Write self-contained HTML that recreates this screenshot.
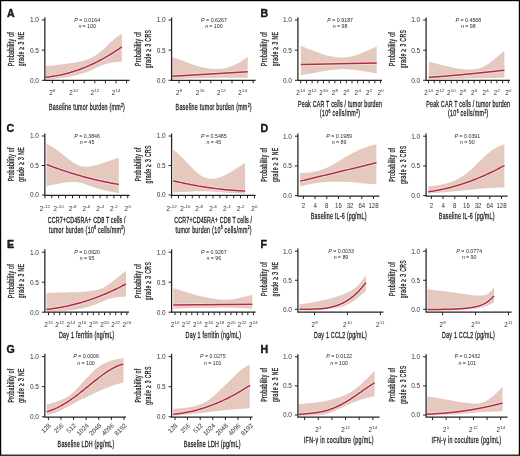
<!DOCTYPE html>
<html><head><meta charset="utf-8"><title>Figure</title>
<style>
html,body{margin:0;padding:0;background:#fff;}
svg{display:block;will-change:transform;}
text{white-space:pre;font-family:"Liberation Sans",sans-serif;fill:#222;stroke:#222;stroke-width:0.3px;}
text.pv{stroke-width:0;fill:#2a2a2a;}
text.tk{stroke-width:0;fill:#333;}
text.let{stroke:#000;stroke-width:0.35px;}
</style></head><body>
<svg width="520" height="456" viewBox="0 0 520 456">
<rect x="0" y="0" width="520" height="456" fill="#fff"/>
<path d="M45.6,65.99 L46.6,65.92 L47.6,65.85 L48.6,65.78 L49.6,65.71 L50.6,65.63 L51.6,65.54 L52.6,65.45 L53.6,65.36 L54.6,65.26 L55.6,65.16 L56.6,65.06 L57.6,64.94 L58.6,64.83 L59.6,64.7 L60.6,64.58 L61.6,64.45 L62.6,64.31 L63.6,64.18 L64.6,64.04 L65.6,63.9 L66.6,63.76 L67.6,63.62 L68.6,63.48 L69.6,63.33 L70.6,63.19 L71.6,63.04 L72.6,62.89 L73.6,62.74 L74.6,62.57 L75.6,62.4 L76.6,62.23 L77.6,62.04 L78.6,61.84 L79.6,61.63 L80.6,61.4 L81.6,61.16 L82.6,60.91 L83.6,60.64 L84.6,60.35 L85.6,60.05 L86.6,59.71 L87.6,59.36 L88.6,58.97 L89.6,58.55 L90.6,58.1 L91.6,57.61 L92.6,57.07 L93.6,56.5 L94.6,55.9 L95.6,55.26 L96.6,54.59 L97.6,53.9 L98.6,53.17 L99.6,52.42 L100.6,51.64 L101.6,50.83 L102.6,49.98 L103.6,49.1 L104.6,48.19 L105.6,47.25 L106.6,46.29 L107.6,45.31 L108.6,44.31 L109.6,43.32 L110.6,42.33 L111.6,41.35 L112.6,40.41 L113.6,39.5 L114.6,38.63 L115.6,37.81 L116.6,37.05 L117.6,36.35 L118.6,35.71 L119.6,35.13 L120.6,34.59 L121.6,34.11 L121.9,33.99 L121.9,61.63 L121.6,61.64 L120.6,61.71 L119.6,61.79 L118.6,61.87 L117.6,61.96 L116.6,62.06 L115.6,62.17 L114.6,62.3 L113.6,62.43 L112.6,62.58 L111.6,62.75 L110.6,62.93 L109.6,63.12 L108.6,63.34 L107.6,63.57 L106.6,63.83 L105.6,64.1 L104.6,64.4 L103.6,64.72 L102.6,65.06 L101.6,65.42 L100.6,65.8 L99.6,66.21 L98.6,66.64 L97.6,67.08 L96.6,67.54 L95.6,68.01 L94.6,68.5 L93.6,68.98 L92.6,69.46 L91.6,69.94 L90.6,70.39 L89.6,70.83 L88.6,71.25 L87.6,71.64 L86.6,72.02 L85.6,72.38 L84.6,72.73 L83.6,73.06 L82.6,73.38 L81.6,73.69 L80.6,73.99 L79.6,74.28 L78.6,74.57 L77.6,74.84 L76.6,75.11 L75.6,75.37 L74.6,75.63 L73.6,75.88 L72.6,76.11 L71.6,76.34 L70.6,76.56 L69.6,76.76 L68.6,76.95 L67.6,77.13 L66.6,77.3 L65.6,77.46 L64.6,77.61 L63.6,77.75 L62.6,77.89 L61.6,78.01 L60.6,78.13 L59.6,78.25 L58.6,78.36 L57.6,78.47 L56.6,78.58 L55.6,78.68 L54.6,78.78 L53.6,78.88 L52.6,78.98 L51.6,79.07 L50.6,79.17 L49.6,79.26 L48.6,79.34 L47.6,79.43 L46.6,79.51 L45.6,79.59 Z" fill="#e5c9be"/>
<path d="M45.6,77.19 L46.6,77.09 L47.6,76.99 L48.6,76.88 L49.6,76.76 L50.6,76.63 L51.6,76.49 L52.6,76.35 L53.6,76.2 L54.6,76.04 L55.6,75.87 L56.6,75.69 L57.6,75.51 L58.6,75.32 L59.6,75.12 L60.6,74.91 L61.6,74.69 L62.6,74.47 L63.6,74.24 L64.6,74 L65.6,73.75 L66.6,73.49 L67.6,73.23 L68.6,72.96 L69.6,72.68 L70.6,72.39 L71.6,72.09 L72.6,71.79 L73.6,71.47 L74.6,71.15 L75.6,70.82 L76.6,70.49 L77.6,70.14 L78.6,69.79 L79.6,69.43 L80.6,69.06 L81.6,68.68 L82.6,68.3 L83.6,67.9 L84.6,67.5 L85.6,67.09 L86.6,66.68 L87.6,66.25 L88.6,65.82 L89.6,65.38 L90.6,64.93 L91.6,64.47 L92.6,64.01 L93.6,63.53 L94.6,63.05 L95.6,62.56 L96.6,62.06 L97.6,61.56 L98.6,61.04 L99.6,60.52 L100.6,59.99 L101.6,59.45 L102.6,58.91 L103.6,58.35 L104.6,57.79 L105.6,57.22 L106.6,56.65 L107.6,56.06 L108.6,55.46 L109.6,54.86 L110.6,54.25 L111.6,53.63 L112.6,53.01 L113.6,52.37 L114.6,51.73 L115.6,51.08 L116.6,50.42 L117.6,49.76 L118.6,49.08 L119.6,48.4 L120.6,47.71 L121.6,47.01 L121.9,46.8" fill="none" stroke="#efe1d8" stroke-width="3.1" stroke-linecap="butt" stroke-linejoin="round"/>
<path d="M45.6,77.19 L46.6,77.09 L47.6,76.99 L48.6,76.88 L49.6,76.76 L50.6,76.63 L51.6,76.49 L52.6,76.35 L53.6,76.2 L54.6,76.04 L55.6,75.87 L56.6,75.69 L57.6,75.51 L58.6,75.32 L59.6,75.12 L60.6,74.91 L61.6,74.69 L62.6,74.47 L63.6,74.24 L64.6,74 L65.6,73.75 L66.6,73.49 L67.6,73.23 L68.6,72.96 L69.6,72.68 L70.6,72.39 L71.6,72.09 L72.6,71.79 L73.6,71.47 L74.6,71.15 L75.6,70.82 L76.6,70.49 L77.6,70.14 L78.6,69.79 L79.6,69.43 L80.6,69.06 L81.6,68.68 L82.6,68.3 L83.6,67.9 L84.6,67.5 L85.6,67.09 L86.6,66.68 L87.6,66.25 L88.6,65.82 L89.6,65.38 L90.6,64.93 L91.6,64.47 L92.6,64.01 L93.6,63.53 L94.6,63.05 L95.6,62.56 L96.6,62.06 L97.6,61.56 L98.6,61.04 L99.6,60.52 L100.6,59.99 L101.6,59.45 L102.6,58.91 L103.6,58.35 L104.6,57.79 L105.6,57.22 L106.6,56.65 L107.6,56.06 L108.6,55.46 L109.6,54.86 L110.6,54.25 L111.6,53.63 L112.6,53.01 L113.6,52.37 L114.6,51.73 L115.6,51.08 L116.6,50.42 L117.6,49.76 L118.6,49.08 L119.6,48.4 L120.6,47.71 L121.6,47.01 L121.9,46.8" fill="none" stroke="#b6284a" stroke-width="1.5" stroke-linecap="butt" stroke-linejoin="round"/>
<path d="M44.85,17.5 V80.3 H129.6" fill="none" stroke="#222" stroke-width="1.25"/>
<path d="M41.85,20 H44.85" stroke="#222" stroke-width="1"/>
<path d="M41.85,50.15 H44.85" stroke="#222" stroke-width="1"/>
<path d="M41.85,80.3 H44.85" stroke="#222" stroke-width="1"/>
<text x="38.95" y="22.35" font-size="6.5" class="tk" text-anchor="end">1.0</text>
<text x="38.95" y="52.5" font-size="6.5" class="tk" text-anchor="end">0.5</text>
<text x="38.95" y="82.65" font-size="6.5" class="tk" text-anchor="end">0.0</text>
<path d="M52.4,80.3 v3 M63,80.3 v3 M73.6,80.3 v3 M84.2,80.3 v3 M94.8,80.3 v3 M105.4,80.3 v3 M116,80.3 v3 M126.6,80.3 v3" stroke="#222" stroke-width="1"/>
<text x="49.28" y="94.7" font-size="6.3" class="tk">2</text>
<text x="53.08" y="91.7" font-size="4.4" class="tk">8</text>
<text x="69.25" y="94.7" font-size="6.3" class="tk">2</text>
<text x="73.06" y="91.7" font-size="4.4" class="tk">10</text>
<text x="90.45" y="94.7" font-size="6.3" class="tk">2</text>
<text x="94.26" y="91.7" font-size="4.4" class="tk">12</text>
<text x="111.65" y="94.7" font-size="6.3" class="tk">2</text>
<text x="115.46" y="91.7" font-size="4.4" class="tk">14</text>
<text x="74.31" y="21.8" font-size="5.3" class="pv" font-style="italic">P</text>
<text x="79.31" y="21.8" font-size="5.3" class="pv">=</text>
<text x="83.88" y="21.8" font-size="5.3" class="pv">0.0164</text>
<text x="78.38" y="28" font-size="5.3" class="pv" font-style="italic">n</text>
<text x="82.51" y="28" font-size="5.3" class="pv">=</text>
<text x="87.08" y="28" font-size="5.3" class="pv">100</text>
<text transform="translate(14.15 48.95) rotate(-90) scale(0.6 1)" x="-28.33" y="0" font-size="8.5" letter-spacing="0.54">Probability of</text>
<text transform="translate(24.45 48.95) rotate(-90) scale(0.6 1)" x="-28.92" y="0" font-size="8.5" letter-spacing="0.65">grade ≥ 3 NE</text>
<text transform="translate(49 110.4) scale(0.6 1)" x="0" y="0" font-size="8.9" letter-spacing="0.41">Baseline tumor burden (mm</text>
<text transform="translate(121.04 106.8) scale(0.6 1)" x="0" y="0" font-size="5.52" letter-spacing="0.29">2</text>
<text transform="translate(123.06 110.4) scale(0.6 1)" x="0" y="0" font-size="8.9" letter-spacing="0.28">)</text>
<path d="M172.4,57.44 L173.4,57.7 L174.4,57.96 L175.4,58.24 L176.4,58.53 L177.4,58.84 L178.4,59.16 L179.4,59.49 L180.4,59.84 L181.4,60.21 L182.4,60.59 L183.4,60.98 L184.4,61.37 L185.4,61.77 L186.4,62.17 L187.4,62.57 L188.4,62.96 L189.4,63.35 L190.4,63.73 L191.4,64.09 L192.4,64.45 L193.4,64.79 L194.4,65.12 L195.4,65.44 L196.4,65.74 L197.4,66.02 L198.4,66.3 L199.4,66.56 L200.4,66.81 L201.4,67.05 L202.4,67.28 L203.4,67.5 L204.4,67.72 L205.4,67.92 L206.4,68.11 L207.4,68.28 L208.4,68.43 L209.4,68.56 L210.4,68.68 L211.4,68.77 L212.4,68.85 L213.4,68.91 L214.4,68.96 L215.4,68.99 L216.4,69 L217.4,68.99 L218.4,68.97 L219.4,68.92 L220.4,68.86 L221.4,68.76 L222.4,68.64 L223.4,68.49 L224.4,68.32 L225.4,68.11 L226.4,67.88 L227.4,67.61 L228.4,67.3 L229.4,66.97 L230.4,66.61 L231.4,66.22 L232.4,65.81 L233.4,65.38 L234.4,64.93 L235.4,64.46 L236.4,63.98 L237.4,63.48 L238.4,62.95 L239.4,62.4 L240.4,61.83 L241.4,61.23 L242.4,60.6 L243.4,59.94 L244.4,59.26 L245.4,58.55 L246.4,57.82 L247.4,57.07 L247.7,56.87 L247.7,77.7 L247.4,77.7 L246.4,77.7 L245.4,77.7 L244.4,77.7 L243.4,77.7 L242.4,77.7 L241.4,77.7 L240.4,77.7 L239.4,77.7 L238.4,77.7 L237.4,77.7 L236.4,77.7 L235.4,77.7 L234.4,77.7 L233.4,77.7 L232.4,77.71 L231.4,77.71 L230.4,77.72 L229.4,77.72 L228.4,77.73 L227.4,77.74 L226.4,77.75 L225.4,77.76 L224.4,77.77 L223.4,77.79 L222.4,77.8 L221.4,77.82 L220.4,77.83 L219.4,77.85 L218.4,77.86 L217.4,77.88 L216.4,77.9 L215.4,77.92 L214.4,77.93 L213.4,77.95 L212.4,77.97 L211.4,77.98 L210.4,78 L209.4,78.02 L208.4,78.04 L207.4,78.05 L206.4,78.07 L205.4,78.09 L204.4,78.11 L203.4,78.12 L202.4,78.14 L201.4,78.16 L200.4,78.18 L199.4,78.2 L198.4,78.22 L197.4,78.25 L196.4,78.27 L195.4,78.29 L194.4,78.31 L193.4,78.34 L192.4,78.37 L191.4,78.39 L190.4,78.42 L189.4,78.45 L188.4,78.48 L187.4,78.51 L186.4,78.54 L185.4,78.58 L184.4,78.62 L183.4,78.66 L182.4,78.7 L181.4,78.74 L180.4,78.79 L179.4,78.83 L178.4,78.88 L177.4,78.93 L176.4,78.99 L175.4,79.04 L174.4,79.09 L173.4,79.15 L172.4,79.2 Z" fill="#e5c9be"/>
<path d="M172.4,76.2 L247.7,71.8" fill="none" stroke="#efe1d8" stroke-width="3.1" stroke-linecap="butt" stroke-linejoin="round"/>
<path d="M172.4,76.2 L247.7,71.8" fill="none" stroke="#b6284a" stroke-width="1.5" stroke-linecap="butt" stroke-linejoin="round"/>
<path d="M171.6,17.5 V80.3 H255.6" fill="none" stroke="#222" stroke-width="1.25"/>
<path d="M168.6,20 H171.6" stroke="#222" stroke-width="1"/>
<path d="M168.6,50.15 H171.6" stroke="#222" stroke-width="1"/>
<path d="M168.6,80.3 H171.6" stroke="#222" stroke-width="1"/>
<text x="165.7" y="22.35" font-size="6.5" class="tk" text-anchor="end">1.0</text>
<text x="165.7" y="52.5" font-size="6.5" class="tk" text-anchor="end">0.5</text>
<text x="165.7" y="82.65" font-size="6.5" class="tk" text-anchor="end">0.0</text>
<path d="M179,80.3 v3 M189.6,80.3 v3 M200.2,80.3 v3 M210.8,80.3 v3 M221.4,80.3 v3 M232,80.3 v3 M242.6,80.3 v3 M253.2,80.3 v3" stroke="#222" stroke-width="1"/>
<text x="175.88" y="94.7" font-size="6.3" class="tk">2</text>
<text x="179.68" y="91.7" font-size="4.4" class="tk">8</text>
<text x="195.85" y="94.7" font-size="6.3" class="tk">2</text>
<text x="199.66" y="91.7" font-size="4.4" class="tk">10</text>
<text x="217.05" y="94.7" font-size="6.3" class="tk">2</text>
<text x="220.86" y="91.7" font-size="4.4" class="tk">12</text>
<text x="238.25" y="94.7" font-size="6.3" class="tk">2</text>
<text x="242.06" y="91.7" font-size="4.4" class="tk">14</text>
<text x="201.06" y="21.8" font-size="5.3" class="pv" font-style="italic">P</text>
<text x="206.06" y="21.8" font-size="5.3" class="pv">=</text>
<text x="210.63" y="21.8" font-size="5.3" class="pv">0.6267</text>
<text x="205.13" y="28" font-size="5.3" class="pv" font-style="italic">n</text>
<text x="209.26" y="28" font-size="5.3" class="pv">=</text>
<text x="213.83" y="28" font-size="5.3" class="pv">100</text>
<text transform="translate(140.9 48.95) rotate(-90) scale(0.6 1)" x="-28.33" y="0" font-size="8.5" letter-spacing="0.54">Probability of</text>
<text transform="translate(151.2 48.95) rotate(-90) scale(0.6 1)" x="-32" y="0" font-size="8.5" letter-spacing="0.6">grade ≥ 3 CRS</text>
<text transform="translate(175.6 110.4) scale(0.6 1)" x="0" y="0" font-size="8.9" letter-spacing="0.41">Baseline tumor burden (mm</text>
<text transform="translate(247.64 106.8) scale(0.6 1)" x="0" y="0" font-size="5.52" letter-spacing="0.29">2</text>
<text transform="translate(249.66 110.4) scale(0.6 1)" x="0" y="0" font-size="8.9" letter-spacing="0.28">)</text>
<path d="M300.8,45.79 L301.8,46.21 L302.8,46.63 L303.8,47.05 L304.8,47.46 L305.8,47.87 L306.8,48.28 L307.8,48.68 L308.8,49.07 L309.8,49.46 L310.8,49.84 L311.8,50.22 L312.8,50.6 L313.8,50.98 L314.8,51.35 L315.8,51.72 L316.8,52.09 L317.8,52.46 L318.8,52.82 L319.8,53.19 L320.8,53.54 L321.8,53.89 L322.8,54.23 L323.8,54.55 L324.8,54.86 L325.8,55.15 L326.8,55.42 L327.8,55.67 L328.8,55.9 L329.8,56.12 L330.8,56.32 L331.8,56.51 L332.8,56.68 L333.8,56.84 L334.8,56.99 L335.8,57.13 L336.8,57.25 L337.8,57.35 L338.8,57.44 L339.8,57.5 L340.8,57.54 L341.8,57.55 L342.8,57.53 L343.8,57.49 L344.8,57.42 L345.8,57.32 L346.8,57.21 L347.8,57.07 L348.8,56.91 L349.8,56.73 L350.8,56.53 L351.8,56.32 L352.8,56.08 L353.8,55.82 L354.8,55.54 L355.8,55.23 L356.8,54.89 L357.8,54.53 L358.8,54.16 L359.8,53.76 L360.8,53.36 L361.8,52.94 L362.8,52.52 L363.8,52.1 L364.8,51.68 L365.8,51.27 L366.8,50.85 L367.8,50.43 L368.8,50.01 L369.8,49.59 L370.8,49.16 L371.8,48.73 L372.8,48.3 L373.8,47.87 L374.8,47.43 L375.8,46.99 L376.7,46.66 L376.7,73.48 L375.8,73.34 L374.8,73.16 L373.8,72.98 L372.8,72.8 L371.8,72.62 L370.8,72.44 L369.8,72.27 L368.8,72.1 L367.8,71.93 L366.8,71.77 L365.8,71.6 L364.8,71.43 L363.8,71.27 L362.8,71.11 L361.8,70.95 L360.8,70.79 L359.8,70.63 L358.8,70.48 L357.8,70.34 L356.8,70.2 L355.8,70.07 L354.8,69.95 L353.8,69.84 L352.8,69.74 L351.8,69.65 L350.8,69.57 L349.8,69.49 L348.8,69.42 L347.8,69.36 L346.8,69.3 L345.8,69.25 L344.8,69.22 L343.8,69.2 L342.8,69.19 L341.8,69.19 L340.8,69.21 L339.8,69.25 L338.8,69.3 L337.8,69.36 L336.8,69.44 L335.8,69.53 L334.8,69.63 L333.8,69.74 L332.8,69.85 L331.8,69.97 L330.8,70.1 L329.8,70.22 L328.8,70.36 L327.8,70.5 L326.8,70.65 L325.8,70.8 L324.8,70.96 L323.8,71.12 L322.8,71.29 L321.8,71.47 L320.8,71.65 L319.8,71.83 L318.8,72.01 L317.8,72.19 L316.8,72.37 L315.8,72.54 L314.8,72.72 L313.8,72.89 L312.8,73.07 L311.8,73.24 L310.8,73.41 L309.8,73.58 L308.8,73.75 L307.8,73.92 L306.8,74.08 L305.8,74.25 L304.8,74.42 L303.8,74.59 L302.8,74.76 L301.8,74.93 L300.8,75.1 Z" fill="#e5c9be"/>
<path d="M300.8,64.6 L376.7,63.1" fill="none" stroke="#efe1d8" stroke-width="3.1" stroke-linecap="butt" stroke-linejoin="round"/>
<path d="M300.8,64.6 L376.7,63.1" fill="none" stroke="#b6284a" stroke-width="1.5" stroke-linecap="butt" stroke-linejoin="round"/>
<path d="M297.9,17.5 V80.3 H382" fill="none" stroke="#222" stroke-width="1.25"/>
<path d="M294.9,20 H297.9" stroke="#222" stroke-width="1"/>
<path d="M294.9,50.15 H297.9" stroke="#222" stroke-width="1"/>
<path d="M294.9,80.3 H297.9" stroke="#222" stroke-width="1"/>
<text x="292" y="22.35" font-size="6.5" class="tk" text-anchor="end">1.0</text>
<text x="292" y="52.5" font-size="6.5" class="tk" text-anchor="end">0.5</text>
<text x="292" y="82.65" font-size="6.5" class="tk" text-anchor="end">0.0</text>
<path d="M300.7,80.3 v3 M306.4,80.3 v3 M312.1,80.3 v3 M317.8,80.3 v3 M323.5,80.3 v3 M329.2,80.3 v3 M334.9,80.3 v3 M340.6,80.3 v3 M346.3,80.3 v3 M352,80.3 v3 M357.7,80.3 v3 M363.4,80.3 v3 M369.1,80.3 v3 M374.8,80.3 v3 M380.5,80.3 v3" stroke="#222" stroke-width="1"/>
<text x="296.35" y="95" font-size="6.3" class="tk">2</text>
<text x="300.16" y="92" font-size="4.4" class="tk">14</text>
<text x="307.75" y="95" font-size="6.3" class="tk">2</text>
<text x="311.56" y="92" font-size="4.4" class="tk">12</text>
<text x="319.15" y="95" font-size="6.3" class="tk">2</text>
<text x="322.96" y="92" font-size="4.4" class="tk">10</text>
<text x="331.78" y="95" font-size="6.3" class="tk">2</text>
<text x="335.58" y="92" font-size="4.4" class="tk">8</text>
<text x="343.18" y="95" font-size="6.3" class="tk">2</text>
<text x="346.98" y="92" font-size="4.4" class="tk">6</text>
<text x="354.58" y="95" font-size="6.3" class="tk">2</text>
<text x="358.38" y="92" font-size="4.4" class="tk">4</text>
<text x="365.98" y="95" font-size="6.3" class="tk">2</text>
<text x="369.78" y="92" font-size="4.4" class="tk">2</text>
<text x="377.38" y="95" font-size="6.3" class="tk">2</text>
<text x="381.18" y="92" font-size="4.4" class="tk">0</text>
<text x="327.26" y="21.8" font-size="5.3" class="pv" font-style="italic">P</text>
<text x="332.26" y="21.8" font-size="5.3" class="pv">=</text>
<text x="336.83" y="21.8" font-size="5.3" class="pv">0.9187</text>
<text x="332.81" y="28" font-size="5.3" class="pv" font-style="italic">n</text>
<text x="336.93" y="28" font-size="5.3" class="pv">=</text>
<text x="341.5" y="28" font-size="5.3" class="pv">98</text>
<text transform="translate(267.2 48.95) rotate(-90) scale(0.6 1)" x="-28.33" y="0" font-size="8.5" letter-spacing="0.54">Probability of</text>
<text transform="translate(277.5 48.95) rotate(-90) scale(0.6 1)" x="-28.92" y="0" font-size="8.5" letter-spacing="0.65">grade ≥ 3 NE</text>
<text transform="translate(340.1 107.1) scale(0.6 1)" x="-70.17" y="0" font-size="8.9" letter-spacing="0.34">Peak CAR T cells / tumor burden</text>
<text transform="translate(319.7 116.3) scale(0.6 1)" x="0" y="0" font-size="8.9" letter-spacing="0.59">(10</text>
<text transform="translate(328.47 112.7) scale(0.6 1)" x="0" y="0" font-size="5.52" letter-spacing="0.42">6</text>
<text transform="translate(330.56 116.3) scale(0.6 1)" x="0" y="0" font-size="8.9" letter-spacing="0.57"> cells/mm</text>
<text transform="translate(356.19 112.7) scale(0.6 1)" x="0" y="0" font-size="5.52" letter-spacing="0.42">2</text>
<text transform="translate(358.28 116.3) scale(0.6 1)" x="0" y="0" font-size="8.9" letter-spacing="0.4">)</text>
<path d="M428.8,61.7 L429.8,61.96 L430.8,62.22 L431.8,62.47 L432.8,62.73 L433.8,62.98 L434.8,63.24 L435.8,63.49 L436.8,63.74 L437.8,63.98 L438.8,64.23 L439.8,64.47 L440.8,64.72 L441.8,64.96 L442.8,65.2 L443.8,65.45 L444.8,65.69 L445.8,65.93 L446.8,66.18 L447.8,66.42 L448.8,66.66 L449.8,66.89 L450.8,67.12 L451.8,67.34 L452.8,67.55 L453.8,67.75 L454.8,67.95 L455.8,68.13 L456.8,68.3 L457.8,68.46 L458.8,68.61 L459.8,68.75 L460.8,68.88 L461.8,69.01 L462.8,69.13 L463.8,69.24 L464.8,69.33 L465.8,69.42 L466.8,69.48 L467.8,69.53 L468.8,69.56 L469.8,69.57 L470.8,69.55 L471.8,69.51 L472.8,69.44 L473.8,69.35 L474.8,69.23 L475.8,69.08 L476.8,68.9 L477.8,68.68 L478.8,68.43 L479.8,68.13 L480.8,67.78 L481.8,67.4 L482.8,66.96 L483.8,66.49 L484.8,65.97 L485.8,65.4 L486.8,64.8 L487.8,64.16 L488.8,63.48 L489.8,62.76 L490.8,62.02 L491.8,61.25 L492.8,60.47 L493.8,59.67 L494.8,58.85 L495.8,58.03 L496.8,57.19 L497.8,56.34 L498.8,55.48 L499.8,54.61 L500.8,53.73 L501.8,52.83 L502.8,51.93 L503.8,51.02 L504.4,50.57 L504.4,77.6 L503.8,77.62 L502.8,77.65 L501.8,77.68 L500.8,77.71 L499.8,77.73 L498.8,77.76 L497.8,77.79 L496.8,77.82 L495.8,77.85 L494.8,77.88 L493.8,77.9 L492.8,77.93 L491.8,77.96 L490.8,77.99 L489.8,78.01 L488.8,78.04 L487.8,78.07 L486.8,78.09 L485.8,78.12 L484.8,78.15 L483.8,78.17 L482.8,78.2 L481.8,78.22 L480.8,78.25 L479.8,78.28 L478.8,78.3 L477.8,78.32 L476.8,78.35 L475.8,78.37 L474.8,78.4 L473.8,78.42 L472.8,78.44 L471.8,78.47 L470.8,78.49 L469.8,78.51 L468.8,78.54 L467.8,78.56 L466.8,78.58 L465.8,78.6 L464.8,78.63 L463.8,78.65 L462.8,78.67 L461.8,78.69 L460.8,78.71 L459.8,78.73 L458.8,78.75 L457.8,78.77 L456.8,78.79 L455.8,78.81 L454.8,78.83 L453.8,78.85 L452.8,78.87 L451.8,78.89 L450.8,78.91 L449.8,78.93 L448.8,78.95 L447.8,78.97 L446.8,78.99 L445.8,79.01 L444.8,79.03 L443.8,79.05 L442.8,79.06 L441.8,79.08 L440.8,79.1 L439.8,79.12 L438.8,79.14 L437.8,79.15 L436.8,79.17 L435.8,79.19 L434.8,79.2 L433.8,79.22 L432.8,79.24 L431.8,79.25 L430.8,79.27 L429.8,79.28 L428.8,79.3 Z" fill="#e5c9be"/>
<path d="M428.8,77.4 L429.8,77.33 L430.8,77.25 L431.8,77.17 L432.8,77.1 L433.8,77.02 L434.8,76.94 L435.8,76.87 L436.8,76.79 L437.8,76.71 L438.8,76.63 L439.8,76.55 L440.8,76.47 L441.8,76.39 L442.8,76.31 L443.8,76.22 L444.8,76.14 L445.8,76.06 L446.8,75.97 L447.8,75.89 L448.8,75.8 L449.8,75.72 L450.8,75.63 L451.8,75.54 L452.8,75.46 L453.8,75.37 L454.8,75.28 L455.8,75.19 L456.8,75.1 L457.8,75.01 L458.8,74.92 L459.8,74.83 L460.8,74.74 L461.8,74.65 L462.8,74.55 L463.8,74.46 L464.8,74.37 L465.8,74.27 L466.8,74.18 L467.8,74.08 L468.8,73.98 L469.8,73.89 L470.8,73.79 L471.8,73.69 L472.8,73.59 L473.8,73.5 L474.8,73.4 L475.8,73.3 L476.8,73.2 L477.8,73.09 L478.8,72.99 L479.8,72.89 L480.8,72.79 L481.8,72.68 L482.8,72.58 L483.8,72.48 L484.8,72.37 L485.8,72.26 L486.8,72.16 L487.8,72.05 L488.8,71.94 L489.8,71.84 L490.8,71.73 L491.8,71.62 L492.8,71.51 L493.8,71.4 L494.8,71.29 L495.8,71.18 L496.8,71.07 L497.8,70.95 L498.8,70.84 L499.8,70.73 L500.8,70.61 L501.8,70.5 L502.8,70.39 L503.8,70.27 L504.4,70.2" fill="none" stroke="#efe1d8" stroke-width="3.1" stroke-linecap="butt" stroke-linejoin="round"/>
<path d="M428.8,77.4 L429.8,77.33 L430.8,77.25 L431.8,77.17 L432.8,77.1 L433.8,77.02 L434.8,76.94 L435.8,76.87 L436.8,76.79 L437.8,76.71 L438.8,76.63 L439.8,76.55 L440.8,76.47 L441.8,76.39 L442.8,76.31 L443.8,76.22 L444.8,76.14 L445.8,76.06 L446.8,75.97 L447.8,75.89 L448.8,75.8 L449.8,75.72 L450.8,75.63 L451.8,75.54 L452.8,75.46 L453.8,75.37 L454.8,75.28 L455.8,75.19 L456.8,75.1 L457.8,75.01 L458.8,74.92 L459.8,74.83 L460.8,74.74 L461.8,74.65 L462.8,74.55 L463.8,74.46 L464.8,74.37 L465.8,74.27 L466.8,74.18 L467.8,74.08 L468.8,73.98 L469.8,73.89 L470.8,73.79 L471.8,73.69 L472.8,73.59 L473.8,73.5 L474.8,73.4 L475.8,73.3 L476.8,73.2 L477.8,73.09 L478.8,72.99 L479.8,72.89 L480.8,72.79 L481.8,72.68 L482.8,72.58 L483.8,72.48 L484.8,72.37 L485.8,72.26 L486.8,72.16 L487.8,72.05 L488.8,71.94 L489.8,71.84 L490.8,71.73 L491.8,71.62 L492.8,71.51 L493.8,71.4 L494.8,71.29 L495.8,71.18 L496.8,71.07 L497.8,70.95 L498.8,70.84 L499.8,70.73 L500.8,70.61 L501.8,70.5 L502.8,70.39 L503.8,70.27 L504.4,70.2" fill="none" stroke="#b6284a" stroke-width="1.5" stroke-linecap="butt" stroke-linejoin="round"/>
<path d="M426.1,17.5 V80.3 H510" fill="none" stroke="#222" stroke-width="1.25"/>
<path d="M423.1,20 H426.1" stroke="#222" stroke-width="1"/>
<path d="M423.1,50.15 H426.1" stroke="#222" stroke-width="1"/>
<path d="M423.1,80.3 H426.1" stroke="#222" stroke-width="1"/>
<text x="420.2" y="22.35" font-size="6.5" class="tk" text-anchor="end">1.0</text>
<text x="420.2" y="52.5" font-size="6.5" class="tk" text-anchor="end">0.5</text>
<text x="420.2" y="82.65" font-size="6.5" class="tk" text-anchor="end">0.0</text>
<path d="M428.5,80.3 v3 M434.2,80.3 v3 M439.9,80.3 v3 M445.6,80.3 v3 M451.3,80.3 v3 M457,80.3 v3 M462.7,80.3 v3 M468.4,80.3 v3 M474.1,80.3 v3 M479.8,80.3 v3 M485.5,80.3 v3 M491.2,80.3 v3 M496.9,80.3 v3 M502.6,80.3 v3 M508.3,80.3 v3" stroke="#222" stroke-width="1"/>
<text x="424.15" y="95" font-size="6.3" class="tk">2</text>
<text x="427.96" y="92" font-size="4.4" class="tk">14</text>
<text x="435.55" y="95" font-size="6.3" class="tk">2</text>
<text x="439.36" y="92" font-size="4.4" class="tk">12</text>
<text x="446.95" y="95" font-size="6.3" class="tk">2</text>
<text x="450.76" y="92" font-size="4.4" class="tk">10</text>
<text x="459.58" y="95" font-size="6.3" class="tk">2</text>
<text x="463.38" y="92" font-size="4.4" class="tk">8</text>
<text x="470.98" y="95" font-size="6.3" class="tk">2</text>
<text x="474.78" y="92" font-size="4.4" class="tk">6</text>
<text x="482.38" y="95" font-size="6.3" class="tk">2</text>
<text x="486.18" y="92" font-size="4.4" class="tk">4</text>
<text x="493.78" y="95" font-size="6.3" class="tk">2</text>
<text x="497.58" y="92" font-size="4.4" class="tk">2</text>
<text x="505.18" y="95" font-size="6.3" class="tk">2</text>
<text x="508.98" y="92" font-size="4.4" class="tk">0</text>
<text x="455.46" y="21.8" font-size="5.3" class="pv" font-style="italic">P</text>
<text x="460.46" y="21.8" font-size="5.3" class="pv">=</text>
<text x="465.03" y="21.8" font-size="5.3" class="pv">0.4568</text>
<text x="461.01" y="28" font-size="5.3" class="pv" font-style="italic">n</text>
<text x="465.13" y="28" font-size="5.3" class="pv">=</text>
<text x="469.7" y="28" font-size="5.3" class="pv">98</text>
<text transform="translate(395.4 48.95) rotate(-90) scale(0.6 1)" x="-28.33" y="0" font-size="8.5" letter-spacing="0.54">Probability of</text>
<text transform="translate(405.7 48.95) rotate(-90) scale(0.6 1)" x="-32" y="0" font-size="8.5" letter-spacing="0.6">grade ≥ 3 CRS</text>
<text transform="translate(468.3 107.1) scale(0.6 1)" x="-70.17" y="0" font-size="8.9" letter-spacing="0.34">Peak CAR T cells / tumor burden</text>
<text transform="translate(447.9 116.3) scale(0.6 1)" x="0" y="0" font-size="8.9" letter-spacing="0.59">(10</text>
<text transform="translate(456.67 112.7) scale(0.6 1)" x="0" y="0" font-size="5.52" letter-spacing="0.42">6</text>
<text transform="translate(458.76 116.3) scale(0.6 1)" x="0" y="0" font-size="8.9" letter-spacing="0.57"> cells/mm</text>
<text transform="translate(484.39 112.7) scale(0.6 1)" x="0" y="0" font-size="5.52" letter-spacing="0.42">2</text>
<text transform="translate(486.48 116.3) scale(0.6 1)" x="0" y="0" font-size="8.9" letter-spacing="0.4">)</text>
<path d="M46.5,143.78 L47.5,144.25 L48.5,144.74 L49.5,145.25 L50.5,145.79 L51.5,146.36 L52.5,146.96 L53.5,147.59 L54.5,148.26 L55.5,148.95 L56.5,149.66 L57.5,150.4 L58.5,151.16 L59.5,151.94 L60.5,152.72 L61.5,153.51 L62.5,154.31 L63.5,155.11 L64.5,155.91 L65.5,156.71 L66.5,157.5 L67.5,158.29 L68.5,159.06 L69.5,159.82 L70.5,160.56 L71.5,161.28 L72.5,161.97 L73.5,162.63 L74.5,163.24 L75.5,163.81 L76.5,164.34 L77.5,164.83 L78.5,165.26 L79.5,165.64 L80.5,165.97 L81.5,166.23 L82.5,166.43 L83.5,166.57 L84.5,166.66 L85.5,166.71 L86.5,166.71 L87.5,166.67 L88.5,166.61 L89.5,166.52 L90.5,166.39 L91.5,166.24 L92.5,166.04 L93.5,165.82 L94.5,165.56 L95.5,165.28 L96.5,164.98 L97.5,164.66 L98.5,164.34 L99.5,164.02 L100.5,163.7 L101.5,163.38 L102.5,163.06 L103.5,162.74 L104.5,162.43 L105.5,162.11 L106.5,161.79 L107.5,161.47 L108.5,161.14 L109.5,160.82 L110.5,160.49 L111.5,160.16 L112.5,159.83 L113.5,159.49 L114.5,159.16 L115.5,158.82 L116.5,158.48 L117.5,158.14 L118.5,157.8 L118.8,157.71 L118.8,193.07 L118.5,193.03 L117.5,192.88 L116.5,192.72 L115.5,192.55 L114.5,192.37 L113.5,192.2 L112.5,192.01 L111.5,191.82 L110.5,191.62 L109.5,191.41 L108.5,191.2 L107.5,190.98 L106.5,190.76 L105.5,190.53 L104.5,190.28 L103.5,190.04 L102.5,189.78 L101.5,189.52 L100.5,189.25 L99.5,188.97 L98.5,188.69 L97.5,188.4 L96.5,188.11 L95.5,187.81 L94.5,187.5 L93.5,187.18 L92.5,186.85 L91.5,186.51 L90.5,186.15 L89.5,185.78 L88.5,185.4 L87.5,185.02 L86.5,184.64 L85.5,184.27 L84.5,183.92 L83.5,183.59 L82.5,183.3 L81.5,183.04 L80.5,182.81 L79.5,182.62 L78.5,182.45 L77.5,182.31 L76.5,182.2 L75.5,182.1 L74.5,182.03 L73.5,181.98 L72.5,181.96 L71.5,181.95 L70.5,181.98 L69.5,182.03 L68.5,182.12 L67.5,182.22 L66.5,182.35 L65.5,182.5 L64.5,182.66 L63.5,182.83 L62.5,183.01 L61.5,183.19 L60.5,183.37 L59.5,183.56 L58.5,183.74 L57.5,183.93 L56.5,184.12 L55.5,184.31 L54.5,184.51 L53.5,184.7 L52.5,184.91 L51.5,185.12 L50.5,185.33 L49.5,185.54 L48.5,185.76 L47.5,185.99 L46.5,186.21 Z" fill="#e5c9be"/>
<path d="M46.5,164.48 L47.5,164.87 L48.5,165.25 L49.5,165.63 L50.5,166 L51.5,166.37 L52.5,166.74 L53.5,167.11 L54.5,167.47 L55.5,167.83 L56.5,168.19 L57.5,168.54 L58.5,168.89 L59.5,169.24 L60.5,169.59 L61.5,169.93 L62.5,170.27 L63.5,170.6 L64.5,170.93 L65.5,171.26 L66.5,171.59 L67.5,171.91 L68.5,172.23 L69.5,172.55 L70.5,172.87 L71.5,173.18 L72.5,173.49 L73.5,173.79 L74.5,174.09 L75.5,174.39 L76.5,174.69 L77.5,174.98 L78.5,175.27 L79.5,175.56 L80.5,175.84 L81.5,176.12 L82.5,176.4 L83.5,176.68 L84.5,176.95 L85.5,177.22 L86.5,177.48 L87.5,177.74 L88.5,178 L89.5,178.26 L90.5,178.51 L91.5,178.77 L92.5,179.01 L93.5,179.26 L94.5,179.5 L95.5,179.74 L96.5,179.97 L97.5,180.2 L98.5,180.43 L99.5,180.66 L100.5,180.88 L101.5,181.1 L102.5,181.32 L103.5,181.54 L104.5,181.75 L105.5,181.95 L106.5,182.16 L107.5,182.36 L108.5,182.56 L109.5,182.76 L110.5,182.95 L111.5,183.14 L112.5,183.33 L113.5,183.51 L114.5,183.69 L115.5,183.87 L116.5,184.04 L117.5,184.21 L118.5,184.38 L118.8,184.43" fill="none" stroke="#efe1d8" stroke-width="3.1" stroke-linecap="butt" stroke-linejoin="round"/>
<path d="M46.5,164.48 L47.5,164.87 L48.5,165.25 L49.5,165.63 L50.5,166 L51.5,166.37 L52.5,166.74 L53.5,167.11 L54.5,167.47 L55.5,167.83 L56.5,168.19 L57.5,168.54 L58.5,168.89 L59.5,169.24 L60.5,169.59 L61.5,169.93 L62.5,170.27 L63.5,170.6 L64.5,170.93 L65.5,171.26 L66.5,171.59 L67.5,171.91 L68.5,172.23 L69.5,172.55 L70.5,172.87 L71.5,173.18 L72.5,173.49 L73.5,173.79 L74.5,174.09 L75.5,174.39 L76.5,174.69 L77.5,174.98 L78.5,175.27 L79.5,175.56 L80.5,175.84 L81.5,176.12 L82.5,176.4 L83.5,176.68 L84.5,176.95 L85.5,177.22 L86.5,177.48 L87.5,177.74 L88.5,178 L89.5,178.26 L90.5,178.51 L91.5,178.77 L92.5,179.01 L93.5,179.26 L94.5,179.5 L95.5,179.74 L96.5,179.97 L97.5,180.2 L98.5,180.43 L99.5,180.66 L100.5,180.88 L101.5,181.1 L102.5,181.32 L103.5,181.54 L104.5,181.75 L105.5,181.95 L106.5,182.16 L107.5,182.36 L108.5,182.56 L109.5,182.76 L110.5,182.95 L111.5,183.14 L112.5,183.33 L113.5,183.51 L114.5,183.69 L115.5,183.87 L116.5,184.04 L117.5,184.21 L118.5,184.38 L118.8,184.43" fill="none" stroke="#b6284a" stroke-width="1.5" stroke-linecap="butt" stroke-linejoin="round"/>
<path d="M44.85,133.4 V195.3 H129.6" fill="none" stroke="#222" stroke-width="1.25"/>
<path d="M41.85,136 H44.85" stroke="#222" stroke-width="1"/>
<path d="M41.85,165.5 H44.85" stroke="#222" stroke-width="1"/>
<path d="M41.85,195 H44.85" stroke="#222" stroke-width="1"/>
<text x="38.95" y="138.35" font-size="6.5" class="tk" text-anchor="end">1.0</text>
<text x="38.95" y="167.85" font-size="6.5" class="tk" text-anchor="end">0.5</text>
<text x="38.95" y="197.35" font-size="6.5" class="tk" text-anchor="end">0.0</text>
<path d="M44.9,195.3 v3 M51.8,195.3 v3 M58.7,195.3 v3 M65.6,195.3 v3 M72.5,195.3 v3 M79.4,195.3 v3 M86.3,195.3 v3 M93.2,195.3 v3 M100.1,195.3 v3 M107,195.3 v3 M113.9,195.3 v3 M120.8,195.3 v3 M127.7,195.3 v3" stroke="#222" stroke-width="1"/>
<text x="39.82" y="210.8" font-size="6.3" class="tk">2</text>
<text x="43.62" y="207.8" font-size="4.4" class="tk">-12</text>
<text x="53.62" y="210.8" font-size="6.3" class="tk">2</text>
<text x="57.42" y="207.8" font-size="4.4" class="tk">-10</text>
<text x="68.64" y="210.8" font-size="6.3" class="tk">2</text>
<text x="72.45" y="207.8" font-size="4.4" class="tk">-8</text>
<text x="82.44" y="210.8" font-size="6.3" class="tk">2</text>
<text x="86.25" y="207.8" font-size="4.4" class="tk">-6</text>
<text x="96.24" y="210.8" font-size="6.3" class="tk">2</text>
<text x="100.05" y="207.8" font-size="4.4" class="tk">-4</text>
<text x="110.04" y="210.8" font-size="6.3" class="tk">2</text>
<text x="113.85" y="207.8" font-size="4.4" class="tk">-2</text>
<text x="124.58" y="210.8" font-size="6.3" class="tk">2</text>
<text x="128.38" y="207.8" font-size="4.4" class="tk">0</text>
<text x="74.21" y="137.8" font-size="5.3" class="pv" font-style="italic">P</text>
<text x="79.21" y="137.8" font-size="5.3" class="pv">=</text>
<text x="83.78" y="137.8" font-size="5.3" class="pv">0.3846</text>
<text x="79.76" y="144" font-size="5.3" class="pv" font-style="italic">n</text>
<text x="83.88" y="144" font-size="5.3" class="pv">=</text>
<text x="88.45" y="144" font-size="5.3" class="pv">45</text>
<text transform="translate(14.15 164.3) rotate(-90) scale(0.6 1)" x="-28.33" y="0" font-size="8.5" letter-spacing="0.54">Probability of</text>
<text transform="translate(24.45 164.3) rotate(-90) scale(0.6 1)" x="-28.92" y="0" font-size="8.5" letter-spacing="0.65">grade ≥ 3 NE</text>
<text transform="translate(86.75 222.5) scale(0.6 1)" x="-65.08" y="0" font-size="8.9" letter-spacing="0.28">CCR7+CD45RA+ CD8 T cells /</text>
<text transform="translate(48.9 232.5) scale(0.6 1)" x="0" y="0" font-size="8.9" letter-spacing="0.45">tumor burden (10</text>
<text transform="translate(94.22 228.9) scale(0.6 1)" x="0" y="0" font-size="5.52" letter-spacing="0.33">6</text>
<text transform="translate(96.25 232.5) scale(0.6 1)" x="0" y="0" font-size="8.9" letter-spacing="0.44"> cells/mm</text>
<text transform="translate(121.2 228.9) scale(0.6 1)" x="0" y="0" font-size="5.52" letter-spacing="0.33">2</text>
<text transform="translate(123.23 232.5) scale(0.6 1)" x="0" y="0" font-size="8.9" letter-spacing="0.32">)</text>
<path d="M173.2,149.58 L174.2,150.36 L175.2,151.16 L176.2,151.98 L177.2,152.83 L178.2,153.71 L179.2,154.62 L180.2,155.56 L181.2,156.53 L182.2,157.53 L183.2,158.56 L184.2,159.6 L185.2,160.65 L186.2,161.71 L187.2,162.78 L188.2,163.85 L189.2,164.91 L190.2,165.96 L191.2,167 L192.2,168.02 L193.2,169.03 L194.2,170 L195.2,170.95 L196.2,171.86 L197.2,172.74 L198.2,173.57 L199.2,174.35 L200.2,175.07 L201.2,175.72 L202.2,176.31 L203.2,176.84 L204.2,177.29 L205.2,177.69 L206.2,178.02 L207.2,178.3 L208.2,178.51 L209.2,178.66 L210.2,178.76 L211.2,178.79 L212.2,178.78 L213.2,178.71 L214.2,178.61 L215.2,178.46 L216.2,178.28 L217.2,178.06 L218.2,177.81 L219.2,177.52 L220.2,177.2 L221.2,176.84 L222.2,176.45 L223.2,176.02 L224.2,175.57 L225.2,175.08 L226.2,174.58 L227.2,174.04 L228.2,173.49 L229.2,172.91 L230.2,172.32 L231.2,171.72 L232.2,171.1 L233.2,170.47 L234.2,169.84 L235.2,169.2 L236.2,168.56 L237.2,167.91 L238.2,167.26 L239.2,166.6 L240.2,165.93 L241.2,165.26 L242.2,164.58 L243.2,163.9 L244.2,163.21 L245.1,162.69 L245.1,193.69 L244.2,193.65 L243.2,193.61 L242.2,193.56 L241.2,193.51 L240.2,193.46 L239.2,193.4 L238.2,193.35 L237.2,193.29 L236.2,193.24 L235.2,193.18 L234.2,193.12 L233.2,193.06 L232.2,193 L231.2,192.94 L230.2,192.88 L229.2,192.82 L228.2,192.75 L227.2,192.68 L226.2,192.61 L225.2,192.54 L224.2,192.47 L223.2,192.39 L222.2,192.31 L221.2,192.23 L220.2,192.15 L219.2,192.06 L218.2,191.98 L217.2,191.9 L216.2,191.81 L215.2,191.74 L214.2,191.66 L213.2,191.59 L212.2,191.52 L211.2,191.46 L210.2,191.4 L209.2,191.35 L208.2,191.3 L207.2,191.26 L206.2,191.22 L205.2,191.19 L204.2,191.17 L203.2,191.16 L202.2,191.16 L201.2,191.16 L200.2,191.18 L199.2,191.2 L198.2,191.23 L197.2,191.27 L196.2,191.32 L195.2,191.36 L194.2,191.42 L193.2,191.47 L192.2,191.53 L191.2,191.58 L190.2,191.64 L189.2,191.7 L188.2,191.75 L187.2,191.81 L186.2,191.86 L185.2,191.91 L184.2,191.97 L183.2,192.02 L182.2,192.08 L181.2,192.13 L180.2,192.19 L179.2,192.25 L178.2,192.3 L177.2,192.36 L176.2,192.42 L175.2,192.48 L174.2,192.54 L173.2,192.6 Z" fill="#e5c9be"/>
<path d="M173.2,180.77 L174.2,181.01 L175.2,181.25 L176.2,181.48 L177.2,181.72 L178.2,181.94 L179.2,182.17 L180.2,182.39 L181.2,182.62 L182.2,182.83 L183.2,183.05 L184.2,183.26 L185.2,183.47 L186.2,183.68 L187.2,183.88 L188.2,184.09 L189.2,184.29 L190.2,184.48 L191.2,184.68 L192.2,184.87 L193.2,185.05 L194.2,185.24 L195.2,185.42 L196.2,185.6 L197.2,185.78 L198.2,185.95 L199.2,186.13 L200.2,186.29 L201.2,186.46 L202.2,186.62 L203.2,186.79 L204.2,186.94 L205.2,187.1 L206.2,187.25 L207.2,187.4 L208.2,187.55 L209.2,187.69 L210.2,187.83 L211.2,187.97 L212.2,188.11 L213.2,188.24 L214.2,188.37 L215.2,188.5 L216.2,188.63 L217.2,188.75 L218.2,188.87 L219.2,188.98 L220.2,189.1 L221.2,189.21 L222.2,189.32 L223.2,189.42 L224.2,189.53 L225.2,189.63 L226.2,189.73 L227.2,189.82 L228.2,189.91 L229.2,190 L230.2,190.09 L231.2,190.17 L232.2,190.26 L233.2,190.33 L234.2,190.41 L235.2,190.48 L236.2,190.55 L237.2,190.62 L238.2,190.69 L239.2,190.75 L240.2,190.81 L241.2,190.86 L242.2,190.92 L243.2,190.97 L244.2,191.02 L245.1,191.06" fill="none" stroke="#efe1d8" stroke-width="3.1" stroke-linecap="butt" stroke-linejoin="round"/>
<path d="M173.2,180.77 L174.2,181.01 L175.2,181.25 L176.2,181.48 L177.2,181.72 L178.2,181.94 L179.2,182.17 L180.2,182.39 L181.2,182.62 L182.2,182.83 L183.2,183.05 L184.2,183.26 L185.2,183.47 L186.2,183.68 L187.2,183.88 L188.2,184.09 L189.2,184.29 L190.2,184.48 L191.2,184.68 L192.2,184.87 L193.2,185.05 L194.2,185.24 L195.2,185.42 L196.2,185.6 L197.2,185.78 L198.2,185.95 L199.2,186.13 L200.2,186.29 L201.2,186.46 L202.2,186.62 L203.2,186.79 L204.2,186.94 L205.2,187.1 L206.2,187.25 L207.2,187.4 L208.2,187.55 L209.2,187.69 L210.2,187.83 L211.2,187.97 L212.2,188.11 L213.2,188.24 L214.2,188.37 L215.2,188.5 L216.2,188.63 L217.2,188.75 L218.2,188.87 L219.2,188.98 L220.2,189.1 L221.2,189.21 L222.2,189.32 L223.2,189.42 L224.2,189.53 L225.2,189.63 L226.2,189.73 L227.2,189.82 L228.2,189.91 L229.2,190 L230.2,190.09 L231.2,190.17 L232.2,190.26 L233.2,190.33 L234.2,190.41 L235.2,190.48 L236.2,190.55 L237.2,190.62 L238.2,190.69 L239.2,190.75 L240.2,190.81 L241.2,190.86 L242.2,190.92 L243.2,190.97 L244.2,191.02 L245.1,191.06" fill="none" stroke="#b6284a" stroke-width="1.5" stroke-linecap="butt" stroke-linejoin="round"/>
<path d="M171.6,133.4 V195.3 H255.6" fill="none" stroke="#222" stroke-width="1.25"/>
<path d="M168.6,136 H171.6" stroke="#222" stroke-width="1"/>
<path d="M168.6,165.5 H171.6" stroke="#222" stroke-width="1"/>
<path d="M168.6,195 H171.6" stroke="#222" stroke-width="1"/>
<text x="165.7" y="138.35" font-size="6.5" class="tk" text-anchor="end">1.0</text>
<text x="165.7" y="167.85" font-size="6.5" class="tk" text-anchor="end">0.5</text>
<text x="165.7" y="197.35" font-size="6.5" class="tk" text-anchor="end">0.0</text>
<path d="M171.6,195.3 v3 M178.5,195.3 v3 M185.4,195.3 v3 M192.3,195.3 v3 M199.2,195.3 v3 M206.1,195.3 v3 M213,195.3 v3 M219.9,195.3 v3 M226.8,195.3 v3 M233.7,195.3 v3 M240.6,195.3 v3 M247.5,195.3 v3 M254.4,195.3 v3" stroke="#222" stroke-width="1"/>
<text x="166.52" y="210.8" font-size="6.3" class="tk">2</text>
<text x="170.32" y="207.8" font-size="4.4" class="tk">-12</text>
<text x="180.32" y="210.8" font-size="6.3" class="tk">2</text>
<text x="184.12" y="207.8" font-size="4.4" class="tk">-10</text>
<text x="195.34" y="210.8" font-size="6.3" class="tk">2</text>
<text x="199.15" y="207.8" font-size="4.4" class="tk">-8</text>
<text x="209.14" y="210.8" font-size="6.3" class="tk">2</text>
<text x="212.95" y="207.8" font-size="4.4" class="tk">-6</text>
<text x="222.94" y="210.8" font-size="6.3" class="tk">2</text>
<text x="226.75" y="207.8" font-size="4.4" class="tk">-4</text>
<text x="236.74" y="210.8" font-size="6.3" class="tk">2</text>
<text x="240.55" y="207.8" font-size="4.4" class="tk">-2</text>
<text x="251.28" y="210.8" font-size="6.3" class="tk">2</text>
<text x="255.08" y="207.8" font-size="4.4" class="tk">0</text>
<text x="200.96" y="137.8" font-size="5.3" class="pv" font-style="italic">P</text>
<text x="205.96" y="137.8" font-size="5.3" class="pv">=</text>
<text x="210.53" y="137.8" font-size="5.3" class="pv">0.5485</text>
<text x="206.51" y="144" font-size="5.3" class="pv" font-style="italic">n</text>
<text x="210.63" y="144" font-size="5.3" class="pv">=</text>
<text x="215.2" y="144" font-size="5.3" class="pv">45</text>
<text transform="translate(140.9 164.3) rotate(-90) scale(0.6 1)" x="-28.33" y="0" font-size="8.5" letter-spacing="0.54">Probability of</text>
<text transform="translate(151.2 164.3) rotate(-90) scale(0.6 1)" x="-32" y="0" font-size="8.5" letter-spacing="0.6">grade ≥ 3 CRS</text>
<text transform="translate(213.25 222.5) scale(0.6 1)" x="-65.08" y="0" font-size="8.9" letter-spacing="0.28">CCR7+CD45RA+ CD8 T cells /</text>
<text transform="translate(175.4 232.5) scale(0.6 1)" x="0" y="0" font-size="8.9" letter-spacing="0.45">tumor burden (10</text>
<text transform="translate(220.72 228.9) scale(0.6 1)" x="0" y="0" font-size="5.52" letter-spacing="0.33">6</text>
<text transform="translate(222.75 232.5) scale(0.6 1)" x="0" y="0" font-size="8.9" letter-spacing="0.44"> cells/mm</text>
<text transform="translate(247.7 228.9) scale(0.6 1)" x="0" y="0" font-size="5.52" letter-spacing="0.33">2</text>
<text transform="translate(249.73 232.5) scale(0.6 1)" x="0" y="0" font-size="8.9" letter-spacing="0.32">)</text>
<path d="M300.2,173.07 L301.2,173.03 L302.2,172.99 L303.2,172.94 L304.2,172.88 L305.2,172.81 L306.2,172.73 L307.2,172.64 L308.2,172.54 L309.2,172.42 L310.2,172.29 L311.2,172.15 L312.2,171.99 L313.2,171.82 L314.2,171.64 L315.2,171.44 L316.2,171.22 L317.2,170.99 L318.2,170.74 L319.2,170.48 L320.2,170.2 L321.2,169.9 L322.2,169.58 L323.2,169.23 L324.2,168.87 L325.2,168.48 L326.2,168.06 L327.2,167.61 L328.2,167.14 L329.2,166.64 L330.2,166.11 L331.2,165.56 L332.2,164.99 L333.2,164.4 L334.2,163.81 L335.2,163.21 L336.2,162.61 L337.2,162.01 L338.2,161.42 L339.2,160.83 L340.2,160.24 L341.2,159.65 L342.2,159.07 L343.2,158.49 L344.2,157.91 L345.2,157.33 L346.2,156.75 L347.2,156.18 L348.2,155.6 L349.2,155.03 L350.2,154.47 L351.2,153.9 L352.2,153.35 L353.2,152.8 L354.2,152.26 L355.2,151.74 L356.2,151.23 L357.2,150.74 L358.2,150.26 L359.2,149.8 L360.2,149.36 L361.2,148.93 L362.2,148.52 L363.2,148.13 L364.2,147.75 L365.2,147.39 L366.2,147.05 L367.2,146.72 L368.2,146.41 L369.2,146.11 L370.2,145.82 L371.2,145.55 L372.2,145.29 L373.2,145.05 L374.2,144.81 L375.2,144.59 L376.4,144.38 L376.4,184.28 L375.2,184.21 L374.2,184.14 L373.2,184.07 L372.2,183.99 L371.2,183.92 L370.2,183.85 L369.2,183.77 L368.2,183.7 L367.2,183.62 L366.2,183.54 L365.2,183.47 L364.2,183.39 L363.2,183.31 L362.2,183.22 L361.2,183.14 L360.2,183.05 L359.2,182.96 L358.2,182.86 L357.2,182.76 L356.2,182.66 L355.2,182.56 L354.2,182.46 L353.2,182.36 L352.2,182.26 L351.2,182.17 L350.2,182.09 L349.2,182.02 L348.2,181.96 L347.2,181.91 L346.2,181.88 L345.2,181.85 L344.2,181.83 L343.2,181.82 L342.2,181.81 L341.2,181.8 L340.2,181.8 L339.2,181.8 L338.2,181.8 L337.2,181.8 L336.2,181.8 L335.2,181.8 L334.2,181.8 L333.2,181.81 L332.2,181.81 L331.2,181.82 L330.2,181.84 L329.2,181.86 L328.2,181.89 L327.2,181.93 L326.2,181.99 L325.2,182.05 L324.2,182.12 L323.2,182.21 L322.2,182.3 L321.2,182.4 L320.2,182.52 L319.2,182.63 L318.2,182.76 L317.2,182.9 L316.2,183.05 L315.2,183.21 L314.2,183.38 L313.2,183.57 L312.2,183.76 L311.2,183.97 L310.2,184.18 L309.2,184.4 L308.2,184.62 L307.2,184.85 L306.2,185.09 L305.2,185.33 L304.2,185.58 L303.2,185.83 L302.2,186.09 L301.2,186.35 L300.2,186.61 Z" fill="#e5c9be"/>
<path d="M300.2,181.1 L301.2,180.86 L302.2,180.62 L303.2,180.39 L304.2,180.15 L305.2,179.91 L306.2,179.67 L307.2,179.44 L308.2,179.2 L309.2,178.96 L310.2,178.72 L311.2,178.48 L312.2,178.24 L313.2,178.01 L314.2,177.77 L315.2,177.53 L316.2,177.29 L317.2,177.05 L318.2,176.81 L319.2,176.57 L320.2,176.34 L321.2,176.1 L322.2,175.86 L323.2,175.62 L324.2,175.38 L325.2,175.14 L326.2,174.9 L327.2,174.66 L328.2,174.42 L329.2,174.18 L330.2,173.94 L331.2,173.7 L332.2,173.46 L333.2,173.22 L334.2,172.98 L335.2,172.74 L336.2,172.5 L337.2,172.26 L338.2,172.02 L339.2,171.78 L340.2,171.54 L341.2,171.3 L342.2,171.06 L343.2,170.82 L344.2,170.58 L345.2,170.34 L346.2,170.1 L347.2,169.86 L348.2,169.62 L349.2,169.38 L350.2,169.14 L351.2,168.9 L352.2,168.66 L353.2,168.41 L354.2,168.17 L355.2,167.93 L356.2,167.69 L357.2,167.45 L358.2,167.21 L359.2,166.97 L360.2,166.72 L361.2,166.48 L362.2,166.24 L363.2,166 L364.2,165.76 L365.2,165.51 L366.2,165.27 L367.2,165.03 L368.2,164.79 L369.2,164.55 L370.2,164.3 L371.2,164.06 L372.2,163.82 L373.2,163.58 L374.2,163.33 L375.2,163.09 L376.2,162.85 L376.4,162.8" fill="none" stroke="#efe1d8" stroke-width="3.1" stroke-linecap="butt" stroke-linejoin="round"/>
<path d="M300.2,181.1 L301.2,180.86 L302.2,180.62 L303.2,180.39 L304.2,180.15 L305.2,179.91 L306.2,179.67 L307.2,179.44 L308.2,179.2 L309.2,178.96 L310.2,178.72 L311.2,178.48 L312.2,178.24 L313.2,178.01 L314.2,177.77 L315.2,177.53 L316.2,177.29 L317.2,177.05 L318.2,176.81 L319.2,176.57 L320.2,176.34 L321.2,176.1 L322.2,175.86 L323.2,175.62 L324.2,175.38 L325.2,175.14 L326.2,174.9 L327.2,174.66 L328.2,174.42 L329.2,174.18 L330.2,173.94 L331.2,173.7 L332.2,173.46 L333.2,173.22 L334.2,172.98 L335.2,172.74 L336.2,172.5 L337.2,172.26 L338.2,172.02 L339.2,171.78 L340.2,171.54 L341.2,171.3 L342.2,171.06 L343.2,170.82 L344.2,170.58 L345.2,170.34 L346.2,170.1 L347.2,169.86 L348.2,169.62 L349.2,169.38 L350.2,169.14 L351.2,168.9 L352.2,168.66 L353.2,168.41 L354.2,168.17 L355.2,167.93 L356.2,167.69 L357.2,167.45 L358.2,167.21 L359.2,166.97 L360.2,166.72 L361.2,166.48 L362.2,166.24 L363.2,166 L364.2,165.76 L365.2,165.51 L366.2,165.27 L367.2,165.03 L368.2,164.79 L369.2,164.55 L370.2,164.3 L371.2,164.06 L372.2,163.82 L373.2,163.58 L374.2,163.33 L375.2,163.09 L376.2,162.85 L376.4,162.8" fill="none" stroke="#b6284a" stroke-width="1.5" stroke-linecap="butt" stroke-linejoin="round"/>
<path d="M297.9,133.4 V196 H379.4" fill="none" stroke="#222" stroke-width="1.25"/>
<path d="M294.9,136.2 H297.9" stroke="#222" stroke-width="1"/>
<path d="M294.9,165.9 H297.9" stroke="#222" stroke-width="1"/>
<path d="M294.9,195.6 H297.9" stroke="#222" stroke-width="1"/>
<text x="292" y="138.55" font-size="6.5" class="tk" text-anchor="end">1.0</text>
<text x="292" y="168.25" font-size="6.5" class="tk" text-anchor="end">0.5</text>
<text x="292" y="197.95" font-size="6.5" class="tk" text-anchor="end">0.0</text>
<path d="M303.4,196 v3 M315.08,196 v3 M326.76,196 v3 M338.44,196 v3 M350.12,196 v3 M361.8,196 v3 M373.48,196 v3" stroke="#222" stroke-width="1"/>
<text x="303.4" y="207.6" font-size="6.6" class="tk" text-anchor="middle" textLength="3.39" lengthAdjust="spacingAndGlyphs">2</text>
<text x="315.08" y="207.6" font-size="6.6" class="tk" text-anchor="middle" textLength="3.39" lengthAdjust="spacingAndGlyphs">4</text>
<text x="326.76" y="207.6" font-size="6.6" class="tk" text-anchor="middle" textLength="3.39" lengthAdjust="spacingAndGlyphs">8</text>
<text x="338.44" y="207.6" font-size="6.6" class="tk" text-anchor="middle" textLength="6.78" lengthAdjust="spacingAndGlyphs">16</text>
<text x="350.12" y="207.6" font-size="6.6" class="tk" text-anchor="middle" textLength="6.78" lengthAdjust="spacingAndGlyphs">32</text>
<text x="361.8" y="207.6" font-size="6.6" class="tk" text-anchor="middle" textLength="6.78" lengthAdjust="spacingAndGlyphs">64</text>
<text x="373.48" y="207.6" font-size="6.6" class="tk" text-anchor="middle" textLength="10.18" lengthAdjust="spacingAndGlyphs">128</text>
<text x="326.26" y="138" font-size="5.3" class="pv" font-style="italic">P</text>
<text x="331.26" y="138" font-size="5.3" class="pv">=</text>
<text x="335.83" y="138" font-size="5.3" class="pv">0.1989</text>
<text x="331.81" y="144.2" font-size="5.3" class="pv" font-style="italic">n</text>
<text x="335.93" y="144.2" font-size="5.3" class="pv">=</text>
<text x="340.5" y="144.2" font-size="5.3" class="pv">89</text>
<text transform="translate(267.2 164.7) rotate(-90) scale(0.6 1)" x="-28.33" y="0" font-size="8.5" letter-spacing="0.54">Probability of</text>
<text transform="translate(277.5 164.7) rotate(-90) scale(0.6 1)" x="-28.92" y="0" font-size="8.5" letter-spacing="0.65">grade ≥ 3 NE</text>
<text transform="translate(338.75 219.1) scale(0.6 1)" x="-46.58" y="0" font-size="8.9" letter-spacing="0.39">Baseline IL-6 (pg/mL)</text>
<path d="M428.2,186.26 L429.2,186.2 L430.2,186.13 L431.2,186.05 L432.2,185.95 L433.2,185.85 L434.2,185.74 L435.2,185.61 L436.2,185.47 L437.2,185.33 L438.2,185.17 L439.2,185.01 L440.2,184.83 L441.2,184.65 L442.2,184.44 L443.2,184.23 L444.2,183.99 L445.2,183.74 L446.2,183.48 L447.2,183.19 L448.2,182.89 L449.2,182.57 L450.2,182.24 L451.2,181.88 L452.2,181.51 L453.2,181.11 L454.2,180.69 L455.2,180.24 L456.2,179.78 L457.2,179.28 L458.2,178.76 L459.2,178.22 L460.2,177.65 L461.2,177.05 L462.2,176.43 L463.2,175.78 L464.2,175.11 L465.2,174.4 L466.2,173.67 L467.2,172.91 L468.2,172.12 L469.2,171.3 L470.2,170.44 L471.2,169.55 L472.2,168.64 L473.2,167.69 L474.2,166.72 L475.2,165.73 L476.2,164.74 L477.2,163.73 L478.2,162.73 L479.2,161.73 L480.2,160.74 L481.2,159.76 L482.2,158.79 L483.2,157.83 L484.2,156.88 L485.2,155.94 L486.2,155.02 L487.2,154.12 L488.2,153.24 L489.2,152.4 L490.2,151.59 L491.2,150.82 L492.2,150.1 L493.2,149.41 L494.2,148.76 L495.2,148.16 L496.2,147.6 L497.2,147.08 L498.2,146.59 L499.2,146.14 L500.2,145.73 L501.2,145.34 L502.2,144.98 L503.2,144.65 L504.4,144.34 L504.4,187.41 L503.2,187.43 L502.2,187.46 L501.2,187.48 L500.2,187.51 L499.2,187.55 L498.2,187.58 L497.2,187.62 L496.2,187.67 L495.2,187.71 L494.2,187.76 L493.2,187.82 L492.2,187.87 L491.2,187.93 L490.2,187.99 L489.2,188.05 L488.2,188.12 L487.2,188.19 L486.2,188.25 L485.2,188.32 L484.2,188.4 L483.2,188.47 L482.2,188.55 L481.2,188.63 L480.2,188.71 L479.2,188.8 L478.2,188.9 L477.2,189 L476.2,189.1 L475.2,189.21 L474.2,189.32 L473.2,189.43 L472.2,189.54 L471.2,189.65 L470.2,189.76 L469.2,189.86 L468.2,189.96 L467.2,190.06 L466.2,190.16 L465.2,190.26 L464.2,190.35 L463.2,190.44 L462.2,190.53 L461.2,190.62 L460.2,190.72 L459.2,190.81 L458.2,190.9 L457.2,190.99 L456.2,191.09 L455.2,191.18 L454.2,191.27 L453.2,191.37 L452.2,191.47 L451.2,191.56 L450.2,191.66 L449.2,191.75 L448.2,191.85 L447.2,191.95 L446.2,192.04 L445.2,192.14 L444.2,192.23 L443.2,192.32 L442.2,192.41 L441.2,192.5 L440.2,192.59 L439.2,192.68 L438.2,192.77 L437.2,192.85 L436.2,192.94 L435.2,193.03 L434.2,193.11 L433.2,193.19 L432.2,193.27 L431.2,193.36 L430.2,193.44 L429.2,193.52 L428.2,193.6 Z" fill="#e5c9be"/>
<path d="M428.2,191.79 L429.2,191.65 L430.2,191.5 L431.2,191.35 L432.2,191.19 L433.2,191.03 L434.2,190.87 L435.2,190.69 L436.2,190.51 L437.2,190.33 L438.2,190.14 L439.2,189.95 L440.2,189.75 L441.2,189.54 L442.2,189.33 L443.2,189.11 L444.2,188.89 L445.2,188.66 L446.2,188.43 L447.2,188.19 L448.2,187.95 L449.2,187.7 L450.2,187.45 L451.2,187.18 L452.2,186.92 L453.2,186.65 L454.2,186.37 L455.2,186.09 L456.2,185.8 L457.2,185.51 L458.2,185.21 L459.2,184.91 L460.2,184.6 L461.2,184.28 L462.2,183.96 L463.2,183.63 L464.2,183.3 L465.2,182.97 L466.2,182.62 L467.2,182.28 L468.2,181.92 L469.2,181.56 L470.2,181.2 L471.2,180.83 L472.2,180.46 L473.2,180.07 L474.2,179.69 L475.2,179.3 L476.2,178.9 L477.2,178.5 L478.2,178.09 L479.2,177.68 L480.2,177.26 L481.2,176.83 L482.2,176.4 L483.2,175.97 L484.2,175.53 L485.2,175.08 L486.2,174.63 L487.2,174.17 L488.2,173.71 L489.2,173.24 L490.2,172.77 L491.2,172.29 L492.2,171.8 L493.2,171.31 L494.2,170.82 L495.2,170.32 L496.2,169.81 L497.2,169.3 L498.2,168.78 L499.2,168.26 L500.2,167.73 L501.2,167.2 L502.2,166.66 L503.2,166.11 L504.2,165.56 L504.4,165.45" fill="none" stroke="#efe1d8" stroke-width="3.1" stroke-linecap="butt" stroke-linejoin="round"/>
<path d="M428.2,191.79 L429.2,191.65 L430.2,191.5 L431.2,191.35 L432.2,191.19 L433.2,191.03 L434.2,190.87 L435.2,190.69 L436.2,190.51 L437.2,190.33 L438.2,190.14 L439.2,189.95 L440.2,189.75 L441.2,189.54 L442.2,189.33 L443.2,189.11 L444.2,188.89 L445.2,188.66 L446.2,188.43 L447.2,188.19 L448.2,187.95 L449.2,187.7 L450.2,187.45 L451.2,187.18 L452.2,186.92 L453.2,186.65 L454.2,186.37 L455.2,186.09 L456.2,185.8 L457.2,185.51 L458.2,185.21 L459.2,184.91 L460.2,184.6 L461.2,184.28 L462.2,183.96 L463.2,183.63 L464.2,183.3 L465.2,182.97 L466.2,182.62 L467.2,182.28 L468.2,181.92 L469.2,181.56 L470.2,181.2 L471.2,180.83 L472.2,180.46 L473.2,180.07 L474.2,179.69 L475.2,179.3 L476.2,178.9 L477.2,178.5 L478.2,178.09 L479.2,177.68 L480.2,177.26 L481.2,176.83 L482.2,176.4 L483.2,175.97 L484.2,175.53 L485.2,175.08 L486.2,174.63 L487.2,174.17 L488.2,173.71 L489.2,173.24 L490.2,172.77 L491.2,172.29 L492.2,171.8 L493.2,171.31 L494.2,170.82 L495.2,170.32 L496.2,169.81 L497.2,169.3 L498.2,168.78 L499.2,168.26 L500.2,167.73 L501.2,167.2 L502.2,166.66 L503.2,166.11 L504.2,165.56 L504.4,165.45" fill="none" stroke="#b6284a" stroke-width="1.5" stroke-linecap="butt" stroke-linejoin="round"/>
<path d="M426.1,133.4 V196 H507.6" fill="none" stroke="#222" stroke-width="1.25"/>
<path d="M423.1,136.2 H426.1" stroke="#222" stroke-width="1"/>
<path d="M423.1,165.9 H426.1" stroke="#222" stroke-width="1"/>
<path d="M423.1,195.6 H426.1" stroke="#222" stroke-width="1"/>
<text x="420.2" y="138.55" font-size="6.5" class="tk" text-anchor="end">1.0</text>
<text x="420.2" y="168.25" font-size="6.5" class="tk" text-anchor="end">0.5</text>
<text x="420.2" y="197.95" font-size="6.5" class="tk" text-anchor="end">0.0</text>
<path d="M431.4,196 v3 M443.08,196 v3 M454.76,196 v3 M466.44,196 v3 M478.12,196 v3 M489.8,196 v3 M501.48,196 v3" stroke="#222" stroke-width="1"/>
<text x="431.4" y="207.6" font-size="6.6" class="tk" text-anchor="middle" textLength="3.39" lengthAdjust="spacingAndGlyphs">2</text>
<text x="443.08" y="207.6" font-size="6.6" class="tk" text-anchor="middle" textLength="3.39" lengthAdjust="spacingAndGlyphs">4</text>
<text x="454.76" y="207.6" font-size="6.6" class="tk" text-anchor="middle" textLength="3.39" lengthAdjust="spacingAndGlyphs">8</text>
<text x="466.44" y="207.6" font-size="6.6" class="tk" text-anchor="middle" textLength="6.78" lengthAdjust="spacingAndGlyphs">16</text>
<text x="478.12" y="207.6" font-size="6.6" class="tk" text-anchor="middle" textLength="6.78" lengthAdjust="spacingAndGlyphs">32</text>
<text x="489.8" y="207.6" font-size="6.6" class="tk" text-anchor="middle" textLength="6.78" lengthAdjust="spacingAndGlyphs">64</text>
<text x="501.48" y="207.6" font-size="6.6" class="tk" text-anchor="middle" textLength="10.18" lengthAdjust="spacingAndGlyphs">128</text>
<text x="454.46" y="138" font-size="5.3" class="pv" font-style="italic">P</text>
<text x="459.46" y="138" font-size="5.3" class="pv">=</text>
<text x="464.03" y="138" font-size="5.3" class="pv">0.0391</text>
<text x="460.01" y="144.2" font-size="5.3" class="pv" font-style="italic">n</text>
<text x="464.13" y="144.2" font-size="5.3" class="pv">=</text>
<text x="468.7" y="144.2" font-size="5.3" class="pv">90</text>
<text transform="translate(395.4 164.7) rotate(-90) scale(0.6 1)" x="-28.33" y="0" font-size="8.5" letter-spacing="0.54">Probability of</text>
<text transform="translate(405.7 164.7) rotate(-90) scale(0.6 1)" x="-32" y="0" font-size="8.5" letter-spacing="0.6">grade ≥ 3 CRS</text>
<text transform="translate(466.8 219.1) scale(0.6 1)" x="-46.58" y="0" font-size="8.9" letter-spacing="0.39">Baseline IL-6 (pg/mL)</text>
<path d="M46.5,292.8 L47.5,292.78 L48.5,292.76 L49.5,292.73 L50.5,292.71 L51.5,292.69 L52.5,292.67 L53.5,292.65 L54.5,292.62 L55.5,292.6 L56.5,292.58 L57.5,292.56 L58.5,292.54 L59.5,292.52 L60.5,292.5 L61.5,292.48 L62.5,292.46 L63.5,292.45 L64.5,292.43 L65.5,292.41 L66.5,292.39 L67.5,292.38 L68.5,292.36 L69.5,292.34 L70.5,292.32 L71.5,292.3 L72.5,292.28 L73.5,292.25 L74.5,292.22 L75.5,292.19 L76.5,292.15 L77.5,292.11 L78.5,292.07 L79.5,292.01 L80.5,291.96 L81.5,291.9 L82.5,291.83 L83.5,291.75 L84.5,291.67 L85.5,291.58 L86.5,291.48 L87.5,291.38 L88.5,291.26 L89.5,291.13 L90.5,290.99 L91.5,290.84 L92.5,290.68 L93.5,290.51 L94.5,290.32 L95.5,290.13 L96.5,289.91 L97.5,289.68 L98.5,289.42 L99.5,289.13 L100.5,288.81 L101.5,288.44 L102.5,288.02 L103.5,287.55 L104.5,287.03 L105.5,286.47 L106.5,285.86 L107.5,285.2 L108.5,284.52 L109.5,283.81 L110.5,283.07 L111.5,282.31 L112.5,281.54 L113.5,280.75 L114.5,279.96 L115.5,279.15 L116.5,278.35 L117.5,277.54 L118.5,276.72 L119.5,275.91 L120.5,275.11 L121.5,274.3 L122.5,273.5 L123.5,272.7 L124.5,271.9 L125.5,271.1 L126,270.71 L126,296.73 L125.5,296.74 L124.5,296.77 L123.5,296.8 L122.5,296.84 L121.5,296.89 L120.5,296.95 L119.5,297.01 L118.5,297.09 L117.5,297.18 L116.5,297.28 L115.5,297.4 L114.5,297.55 L113.5,297.72 L112.5,297.93 L111.5,298.17 L110.5,298.45 L109.5,298.77 L108.5,299.12 L107.5,299.51 L106.5,299.91 L105.5,300.33 L104.5,300.76 L103.5,301.19 L102.5,301.61 L101.5,302.03 L100.5,302.45 L99.5,302.86 L98.5,303.26 L97.5,303.65 L96.5,304.03 L95.5,304.4 L94.5,304.76 L93.5,305.11 L92.5,305.45 L91.5,305.78 L90.5,306.1 L89.5,306.4 L88.5,306.7 L87.5,306.98 L86.5,307.25 L85.5,307.51 L84.5,307.76 L83.5,308 L82.5,308.23 L81.5,308.45 L80.5,308.67 L79.5,308.87 L78.5,309.07 L77.5,309.25 L76.5,309.43 L75.5,309.6 L74.5,309.76 L73.5,309.91 L72.5,310.04 L71.5,310.17 L70.5,310.27 L69.5,310.37 L68.5,310.45 L67.5,310.52 L66.5,310.59 L65.5,310.64 L64.5,310.7 L63.5,310.74 L62.5,310.79 L61.5,310.84 L60.5,310.88 L59.5,310.93 L58.5,310.97 L57.5,311.02 L56.5,311.06 L55.5,311.11 L54.5,311.15 L53.5,311.2 L52.5,311.24 L51.5,311.29 L50.5,311.33 L49.5,311.37 L48.5,311.41 L47.5,311.46 L46.5,311.5 Z" fill="#e5c9be"/>
<path d="M46.5,309.35 L47.5,309.24 L48.5,309.13 L49.5,309.01 L50.5,308.89 L51.5,308.77 L52.5,308.63 L53.5,308.5 L54.5,308.35 L55.5,308.2 L56.5,308.05 L57.5,307.89 L58.5,307.72 L59.5,307.55 L60.5,307.38 L61.5,307.2 L62.5,307.01 L63.5,306.82 L64.5,306.62 L65.5,306.42 L66.5,306.21 L67.5,305.99 L68.5,305.77 L69.5,305.55 L70.5,305.32 L71.5,305.08 L72.5,304.84 L73.5,304.59 L74.5,304.34 L75.5,304.08 L76.5,303.82 L77.5,303.55 L78.5,303.27 L79.5,302.99 L80.5,302.71 L81.5,302.42 L82.5,302.12 L83.5,301.82 L84.5,301.51 L85.5,301.2 L86.5,300.88 L87.5,300.56 L88.5,300.23 L89.5,299.89 L90.5,299.55 L91.5,299.21 L92.5,298.86 L93.5,298.5 L94.5,298.14 L95.5,297.77 L96.5,297.4 L97.5,297.02 L98.5,296.64 L99.5,296.25 L100.5,295.85 L101.5,295.45 L102.5,295.05 L103.5,294.64 L104.5,294.22 L105.5,293.8 L106.5,293.37 L107.5,292.94 L108.5,292.5 L109.5,292.05 L110.5,291.6 L111.5,291.15 L112.5,290.69 L113.5,290.22 L114.5,289.75 L115.5,289.27 L116.5,288.79 L117.5,288.3 L118.5,287.81 L119.5,287.31 L120.5,286.81 L121.5,286.3 L122.5,285.78 L123.5,285.26 L124.5,284.74 L125.5,284.21 L126,283.94" fill="none" stroke="#efe1d8" stroke-width="3.1" stroke-linecap="butt" stroke-linejoin="round"/>
<path d="M46.5,309.35 L47.5,309.24 L48.5,309.13 L49.5,309.01 L50.5,308.89 L51.5,308.77 L52.5,308.63 L53.5,308.5 L54.5,308.35 L55.5,308.2 L56.5,308.05 L57.5,307.89 L58.5,307.72 L59.5,307.55 L60.5,307.38 L61.5,307.2 L62.5,307.01 L63.5,306.82 L64.5,306.62 L65.5,306.42 L66.5,306.21 L67.5,305.99 L68.5,305.77 L69.5,305.55 L70.5,305.32 L71.5,305.08 L72.5,304.84 L73.5,304.59 L74.5,304.34 L75.5,304.08 L76.5,303.82 L77.5,303.55 L78.5,303.27 L79.5,302.99 L80.5,302.71 L81.5,302.42 L82.5,302.12 L83.5,301.82 L84.5,301.51 L85.5,301.2 L86.5,300.88 L87.5,300.56 L88.5,300.23 L89.5,299.89 L90.5,299.55 L91.5,299.21 L92.5,298.86 L93.5,298.5 L94.5,298.14 L95.5,297.77 L96.5,297.4 L97.5,297.02 L98.5,296.64 L99.5,296.25 L100.5,295.85 L101.5,295.45 L102.5,295.05 L103.5,294.64 L104.5,294.22 L105.5,293.8 L106.5,293.37 L107.5,292.94 L108.5,292.5 L109.5,292.05 L110.5,291.6 L111.5,291.15 L112.5,290.69 L113.5,290.22 L114.5,289.75 L115.5,289.27 L116.5,288.79 L117.5,288.3 L118.5,287.81 L119.5,287.31 L120.5,286.81 L121.5,286.3 L122.5,285.78 L123.5,285.26 L124.5,284.74 L125.5,284.21 L126,283.94" fill="none" stroke="#b6284a" stroke-width="1.5" stroke-linecap="butt" stroke-linejoin="round"/>
<path d="M44.85,249.2 V312.2 H129" fill="none" stroke="#222" stroke-width="1.25"/>
<path d="M41.85,252.2 H44.85" stroke="#222" stroke-width="1"/>
<path d="M41.85,282.2 H44.85" stroke="#222" stroke-width="1"/>
<path d="M41.85,312.2 H44.85" stroke="#222" stroke-width="1"/>
<text x="38.95" y="254.55" font-size="6.5" class="tk" text-anchor="end">1.0</text>
<text x="38.95" y="284.55" font-size="6.5" class="tk" text-anchor="end">0.5</text>
<text x="38.95" y="314.55" font-size="6.5" class="tk" text-anchor="end">0.0</text>
<path d="M48.5,312.2 v3 M54.1,312.2 v3 M59.7,312.2 v3 M65.3,312.2 v3 M70.9,312.2 v3 M76.5,312.2 v3 M82.1,312.2 v3 M87.7,312.2 v3 M93.3,312.2 v3 M98.9,312.2 v3 M104.5,312.2 v3 M110.1,312.2 v3 M115.7,312.2 v3 M121.3,312.2 v3 M126.9,312.2 v3" stroke="#222" stroke-width="1"/>
<text x="44.15" y="326.9" font-size="6.3" class="tk">2</text>
<text x="47.96" y="323.9" font-size="4.4" class="tk">10</text>
<text x="55.35" y="326.9" font-size="6.3" class="tk">2</text>
<text x="59.16" y="323.9" font-size="4.4" class="tk">12</text>
<text x="66.55" y="326.9" font-size="6.3" class="tk">2</text>
<text x="70.36" y="323.9" font-size="4.4" class="tk">14</text>
<text x="77.75" y="326.9" font-size="6.3" class="tk">2</text>
<text x="81.56" y="323.9" font-size="4.4" class="tk">16</text>
<text x="88.95" y="326.9" font-size="6.3" class="tk">2</text>
<text x="92.76" y="323.9" font-size="4.4" class="tk">18</text>
<text x="100.15" y="326.9" font-size="6.3" class="tk">2</text>
<text x="103.96" y="323.9" font-size="4.4" class="tk">20</text>
<text x="111.35" y="326.9" font-size="6.3" class="tk">2</text>
<text x="115.16" y="323.9" font-size="4.4" class="tk">22</text>
<text x="122.55" y="326.9" font-size="6.3" class="tk">2</text>
<text x="126.36" y="323.9" font-size="4.4" class="tk">24</text>
<text x="74.21" y="254" font-size="5.3" class="pv" font-style="italic">P</text>
<text x="79.21" y="254" font-size="5.3" class="pv">=</text>
<text x="83.78" y="254" font-size="5.3" class="pv">0.0620</text>
<text x="79.76" y="260.2" font-size="5.3" class="pv" font-style="italic">n</text>
<text x="83.88" y="260.2" font-size="5.3" class="pv">=</text>
<text x="88.45" y="260.2" font-size="5.3" class="pv">95</text>
<text transform="translate(14.15 281) rotate(-90) scale(0.6 1)" x="-28.33" y="0" font-size="8.5" letter-spacing="0.54">Probability of</text>
<text transform="translate(24.45 281) rotate(-90) scale(0.6 1)" x="-28.92" y="0" font-size="8.5" letter-spacing="0.65">grade ≥ 3 NE</text>
<text transform="translate(86.85 338.2) scale(0.6 1)" x="-46.42" y="0" font-size="8.9" letter-spacing="0.42">Day 1 ferritin (ng/mL)</text>
<path d="M173.3,287.99 L174.3,288.32 L175.3,288.65 L176.3,288.98 L177.3,289.3 L178.3,289.63 L179.3,289.95 L180.3,290.26 L181.3,290.58 L182.3,290.89 L183.3,291.2 L184.3,291.51 L185.3,291.81 L186.3,292.12 L187.3,292.42 L188.3,292.72 L189.3,293.02 L190.3,293.31 L191.3,293.6 L192.3,293.89 L193.3,294.17 L194.3,294.45 L195.3,294.72 L196.3,294.99 L197.3,295.24 L198.3,295.5 L199.3,295.75 L200.3,295.99 L201.3,296.23 L202.3,296.46 L203.3,296.69 L204.3,296.91 L205.3,297.12 L206.3,297.33 L207.3,297.53 L208.3,297.72 L209.3,297.91 L210.3,298.09 L211.3,298.27 L212.3,298.44 L213.3,298.6 L214.3,298.76 L215.3,298.92 L216.3,299.06 L217.3,299.2 L218.3,299.32 L219.3,299.43 L220.3,299.52 L221.3,299.6 L222.3,299.65 L223.3,299.69 L224.3,299.71 L225.3,299.7 L226.3,299.69 L227.3,299.66 L228.3,299.61 L229.3,299.56 L230.3,299.49 L231.3,299.41 L232.3,299.31 L233.3,299.19 L234.3,299.06 L235.3,298.9 L236.3,298.72 L237.3,298.52 L238.3,298.3 L239.3,298.07 L240.3,297.82 L241.3,297.57 L242.3,297.31 L243.3,297.05 L244.3,296.79 L245.3,296.53 L246.3,296.26 L247.3,295.99 L248.3,295.72 L249.3,295.44 L250.3,295.16 L251.3,294.88 L252.3,294.59 L252.3,308.7 L251.3,308.64 L250.3,308.58 L249.3,308.52 L248.3,308.46 L247.3,308.4 L246.3,308.34 L245.3,308.28 L244.3,308.23 L243.3,308.18 L242.3,308.13 L241.3,308.08 L240.3,308.03 L239.3,307.99 L238.3,307.94 L237.3,307.9 L236.3,307.86 L235.3,307.83 L234.3,307.79 L233.3,307.76 L232.3,307.74 L231.3,307.71 L230.3,307.69 L229.3,307.67 L228.3,307.65 L227.3,307.64 L226.3,307.63 L225.3,307.62 L224.3,307.61 L223.3,307.61 L222.3,307.61 L221.3,307.61 L220.3,307.61 L219.3,307.62 L218.3,307.62 L217.3,307.63 L216.3,307.64 L215.3,307.65 L214.3,307.66 L213.3,307.67 L212.3,307.68 L211.3,307.69 L210.3,307.7 L209.3,307.72 L208.3,307.73 L207.3,307.75 L206.3,307.76 L205.3,307.78 L204.3,307.79 L203.3,307.81 L202.3,307.82 L201.3,307.84 L200.3,307.86 L199.3,307.88 L198.3,307.89 L197.3,307.91 L196.3,307.93 L195.3,307.96 L194.3,307.98 L193.3,308 L192.3,308.03 L191.3,308.05 L190.3,308.08 L189.3,308.11 L188.3,308.14 L187.3,308.17 L186.3,308.2 L185.3,308.24 L184.3,308.27 L183.3,308.3 L182.3,308.34 L181.3,308.38 L180.3,308.42 L179.3,308.46 L178.3,308.5 L177.3,308.54 L176.3,308.58 L175.3,308.62 L174.3,308.66 L173.3,308.7 Z" fill="#e5c9be"/>
<path d="M173.3,305.1 L252.3,304.3" fill="none" stroke="#efe1d8" stroke-width="3.1" stroke-linecap="butt" stroke-linejoin="round"/>
<path d="M173.3,305.1 L252.3,304.3" fill="none" stroke="#b6284a" stroke-width="1.5" stroke-linecap="butt" stroke-linejoin="round"/>
<path d="M171.6,249.2 V312.2 H255.6" fill="none" stroke="#222" stroke-width="1.25"/>
<path d="M168.6,252.2 H171.6" stroke="#222" stroke-width="1"/>
<path d="M168.6,282.2 H171.6" stroke="#222" stroke-width="1"/>
<path d="M168.6,312.2 H171.6" stroke="#222" stroke-width="1"/>
<text x="165.7" y="254.55" font-size="6.5" class="tk" text-anchor="end">1.0</text>
<text x="165.7" y="284.55" font-size="6.5" class="tk" text-anchor="end">0.5</text>
<text x="165.7" y="314.55" font-size="6.5" class="tk" text-anchor="end">0.0</text>
<path d="M175,312.2 v3 M180.6,312.2 v3 M186.2,312.2 v3 M191.8,312.2 v3 M197.4,312.2 v3 M203,312.2 v3 M208.6,312.2 v3 M214.2,312.2 v3 M219.8,312.2 v3 M225.4,312.2 v3 M231,312.2 v3 M236.6,312.2 v3 M242.2,312.2 v3 M247.8,312.2 v3 M253.4,312.2 v3" stroke="#222" stroke-width="1"/>
<text x="170.65" y="326.9" font-size="6.3" class="tk">2</text>
<text x="174.46" y="323.9" font-size="4.4" class="tk">10</text>
<text x="181.85" y="326.9" font-size="6.3" class="tk">2</text>
<text x="185.66" y="323.9" font-size="4.4" class="tk">12</text>
<text x="193.05" y="326.9" font-size="6.3" class="tk">2</text>
<text x="196.86" y="323.9" font-size="4.4" class="tk">14</text>
<text x="204.25" y="326.9" font-size="6.3" class="tk">2</text>
<text x="208.06" y="323.9" font-size="4.4" class="tk">16</text>
<text x="215.45" y="326.9" font-size="6.3" class="tk">2</text>
<text x="219.26" y="323.9" font-size="4.4" class="tk">18</text>
<text x="226.65" y="326.9" font-size="6.3" class="tk">2</text>
<text x="230.46" y="323.9" font-size="4.4" class="tk">20</text>
<text x="237.85" y="326.9" font-size="6.3" class="tk">2</text>
<text x="241.66" y="323.9" font-size="4.4" class="tk">22</text>
<text x="249.05" y="326.9" font-size="6.3" class="tk">2</text>
<text x="252.86" y="323.9" font-size="4.4" class="tk">24</text>
<text x="200.96" y="254" font-size="5.3" class="pv" font-style="italic">P</text>
<text x="205.96" y="254" font-size="5.3" class="pv">=</text>
<text x="210.53" y="254" font-size="5.3" class="pv">0.9267</text>
<text x="206.51" y="260.2" font-size="5.3" class="pv" font-style="italic">n</text>
<text x="210.63" y="260.2" font-size="5.3" class="pv">=</text>
<text x="215.2" y="260.2" font-size="5.3" class="pv">96</text>
<text transform="translate(140.9 281) rotate(-90) scale(0.6 1)" x="-28.33" y="0" font-size="8.5" letter-spacing="0.54">Probability of</text>
<text transform="translate(151.2 281) rotate(-90) scale(0.6 1)" x="-32" y="0" font-size="8.5" letter-spacing="0.6">grade ≥ 3 CRS</text>
<text transform="translate(213.4 338.2) scale(0.6 1)" x="-46.42" y="0" font-size="8.9" letter-spacing="0.42">Day 1 ferritin (ng/mL)</text>
<path d="M299.4,304.28 L300.4,304.18 L301.4,304.06 L302.4,303.95 L303.4,303.82 L304.4,303.7 L305.4,303.56 L306.4,303.43 L307.4,303.28 L308.4,303.13 L309.4,302.98 L310.4,302.82 L311.4,302.65 L312.4,302.48 L313.4,302.3 L314.4,302.11 L315.4,301.92 L316.4,301.72 L317.4,301.51 L318.4,301.29 L319.4,301.07 L320.4,300.85 L321.4,300.62 L322.4,300.38 L323.4,300.15 L324.4,299.9 L325.4,299.66 L326.4,299.41 L327.4,299.16 L328.4,298.91 L329.4,298.65 L330.4,298.39 L331.4,298.12 L332.4,297.84 L333.4,297.56 L334.4,297.28 L335.4,296.98 L336.4,296.68 L337.4,296.37 L338.4,296.04 L339.4,295.71 L340.4,295.37 L341.4,295.01 L342.4,294.64 L343.4,294.26 L344.4,293.86 L345.4,293.44 L346.4,293 L347.4,292.54 L348.4,292.06 L349.4,291.55 L350.4,291.01 L351.4,290.44 L352.4,289.83 L353.4,289.17 L354.4,288.47 L355.4,287.72 L356.4,286.91 L357.4,286.03 L358.4,285.07 L359.4,284.02 L360.4,282.86 L361.4,281.6 L362.4,280.22 L363.4,278.73 L364.4,277.14 L365.4,275.44 L365.9,274.57 L365.9,290.94 L365.4,291.34 L364.4,292.15 L363.4,292.98 L362.4,293.81 L361.4,294.66 L360.4,295.51 L359.4,296.36 L358.4,297.22 L357.4,298.05 L356.4,298.87 L355.4,299.67 L354.4,300.43 L353.4,301.16 L352.4,301.85 L351.4,302.5 L350.4,303.11 L349.4,303.67 L348.4,304.2 L347.4,304.69 L346.4,305.14 L345.4,305.56 L344.4,305.95 L343.4,306.3 L342.4,306.63 L341.4,306.92 L340.4,307.18 L339.4,307.41 L338.4,307.62 L337.4,307.81 L336.4,307.98 L335.4,308.13 L334.4,308.28 L333.4,308.41 L332.4,308.53 L331.4,308.64 L330.4,308.74 L329.4,308.82 L328.4,308.9 L327.4,308.97 L326.4,309.03 L325.4,309.08 L324.4,309.12 L323.4,309.16 L322.4,309.2 L321.4,309.23 L320.4,309.26 L319.4,309.29 L318.4,309.32 L317.4,309.35 L316.4,309.37 L315.4,309.4 L314.4,309.42 L313.4,309.44 L312.4,309.46 L311.4,309.48 L310.4,309.5 L309.4,309.51 L308.4,309.53 L307.4,309.54 L306.4,309.55 L305.4,309.56 L304.4,309.57 L303.4,309.58 L302.4,309.59 L301.4,309.59 L300.4,309.59 L299.4,309.6 Z" fill="#e5c9be"/>
<path d="M299.4,309.39 L300.4,309.35 L301.4,309.32 L302.4,309.29 L303.4,309.27 L304.4,309.25 L305.4,309.23 L306.4,309.21 L307.4,309.2 L308.4,309.18 L309.4,309.17 L310.4,309.15 L311.4,309.13 L312.4,309.11 L313.4,309.08 L314.4,309.05 L315.4,309.02 L316.4,308.98 L317.4,308.93 L318.4,308.87 L319.4,308.81 L320.4,308.73 L321.4,308.65 L322.4,308.56 L323.4,308.45 L324.4,308.33 L325.4,308.2 L326.4,308.06 L327.4,307.9 L328.4,307.72 L329.4,307.53 L330.4,307.32 L331.4,307.1 L332.4,306.85 L333.4,306.59 L334.4,306.31 L335.4,306 L336.4,305.68 L337.4,305.33 L338.4,304.96 L339.4,304.56 L340.4,304.14 L341.4,303.69 L342.4,303.22 L343.4,302.72 L344.4,302.19 L345.4,301.64 L346.4,301.05 L347.4,300.44 L348.4,299.79 L349.4,299.11 L350.4,298.4 L351.4,297.66 L352.4,296.88 L353.4,296.07 L354.4,295.22 L355.4,294.33 L356.4,293.41 L357.4,292.45 L358.4,291.45 L359.4,290.41 L360.4,289.33 L361.4,288.21 L362.4,287.05 L363.4,285.84 L364.4,284.59 L365.4,283.3 L365.9,282.64" fill="none" stroke="#efe1d8" stroke-width="3.1" stroke-linecap="butt" stroke-linejoin="round"/>
<path d="M299.4,309.39 L300.4,309.35 L301.4,309.32 L302.4,309.29 L303.4,309.27 L304.4,309.25 L305.4,309.23 L306.4,309.21 L307.4,309.2 L308.4,309.18 L309.4,309.17 L310.4,309.15 L311.4,309.13 L312.4,309.11 L313.4,309.08 L314.4,309.05 L315.4,309.02 L316.4,308.98 L317.4,308.93 L318.4,308.87 L319.4,308.81 L320.4,308.73 L321.4,308.65 L322.4,308.56 L323.4,308.45 L324.4,308.33 L325.4,308.2 L326.4,308.06 L327.4,307.9 L328.4,307.72 L329.4,307.53 L330.4,307.32 L331.4,307.1 L332.4,306.85 L333.4,306.59 L334.4,306.31 L335.4,306 L336.4,305.68 L337.4,305.33 L338.4,304.96 L339.4,304.56 L340.4,304.14 L341.4,303.69 L342.4,303.22 L343.4,302.72 L344.4,302.19 L345.4,301.64 L346.4,301.05 L347.4,300.44 L348.4,299.79 L349.4,299.11 L350.4,298.4 L351.4,297.66 L352.4,296.88 L353.4,296.07 L354.4,295.22 L355.4,294.33 L356.4,293.41 L357.4,292.45 L358.4,291.45 L359.4,290.41 L360.4,289.33 L361.4,288.21 L362.4,287.05 L363.4,285.84 L364.4,284.59 L365.4,283.3 L365.9,282.64" fill="none" stroke="#b6284a" stroke-width="1.5" stroke-linecap="butt" stroke-linejoin="round"/>
<path d="M297.9,248.5 V312.2 H383.4" fill="none" stroke="#222" stroke-width="1.25"/>
<path d="M294.9,251.2 H297.9" stroke="#222" stroke-width="1"/>
<path d="M294.9,280.25 H297.9" stroke="#222" stroke-width="1"/>
<path d="M294.9,309.3 H297.9" stroke="#222" stroke-width="1"/>
<text x="292" y="253.55" font-size="6.5" class="tk" text-anchor="end">1.0</text>
<text x="292" y="282.6" font-size="6.5" class="tk" text-anchor="end">0.5</text>
<text x="292" y="311.65" font-size="6.5" class="tk" text-anchor="end">0.0</text>
<path d="M314.5,312.2 v3 M347.45,312.2 v3 M380.4,312.2 v3" stroke="#222" stroke-width="1"/>
<text x="311.38" y="327" font-size="6.3" class="tk">2</text>
<text x="315.18" y="324" font-size="4.4" class="tk">9</text>
<text x="343.1" y="327" font-size="6.3" class="tk">2</text>
<text x="346.91" y="324" font-size="4.4" class="tk">10</text>
<text x="376.05" y="327" font-size="6.3" class="tk">2</text>
<text x="379.86" y="324" font-size="4.4" class="tk">11</text>
<text x="328.16" y="253" font-size="5.3" class="pv" font-style="italic">P</text>
<text x="333.16" y="253" font-size="5.3" class="pv">=</text>
<text x="337.73" y="253" font-size="5.3" class="pv">0.0033</text>
<text x="333.71" y="259.2" font-size="5.3" class="pv" font-style="italic">n</text>
<text x="337.83" y="259.2" font-size="5.3" class="pv">=</text>
<text x="342.4" y="259.2" font-size="5.3" class="pv">89</text>
<text transform="translate(267.2 279.05) rotate(-90) scale(0.6 1)" x="-28.33" y="0" font-size="8.5" letter-spacing="0.54">Probability of</text>
<text transform="translate(277.5 279.05) rotate(-90) scale(0.6 1)" x="-28.92" y="0" font-size="8.5" letter-spacing="0.65">grade ≥ 3 NE</text>
<text transform="translate(340.55 338.2) scale(0.6 1)" x="-44.08" y="0" font-size="8.9" letter-spacing="0.36">Day 1 CCL2 (pg/mL)</text>
<path d="M427.4,289.4 L428.4,289.51 L429.4,289.62 L430.4,289.73 L431.4,289.84 L432.4,289.95 L433.4,290.06 L434.4,290.17 L435.4,290.29 L436.4,290.4 L437.4,290.51 L438.4,290.63 L439.4,290.74 L440.4,290.86 L441.4,290.98 L442.4,291.1 L443.4,291.22 L444.4,291.34 L445.4,291.46 L446.4,291.58 L447.4,291.7 L448.4,291.83 L449.4,291.95 L450.4,292.08 L451.4,292.21 L452.4,292.34 L453.4,292.48 L454.4,292.62 L455.4,292.76 L456.4,292.9 L457.4,293.05 L458.4,293.2 L459.4,293.35 L460.4,293.49 L461.4,293.64 L462.4,293.79 L463.4,293.93 L464.4,294.07 L465.4,294.21 L466.4,294.35 L467.4,294.49 L468.4,294.62 L469.4,294.76 L470.4,294.89 L471.4,295.01 L472.4,295.13 L473.4,295.24 L474.4,295.34 L475.4,295.43 L476.4,295.5 L477.4,295.55 L478.4,295.59 L479.4,295.6 L480.4,295.58 L481.4,295.54 L482.4,295.45 L483.4,295.31 L484.4,295.1 L485.4,294.82 L486.4,294.44 L487.4,293.96 L488.4,293.35 L489.4,292.62 L490.4,291.74 L491.4,290.72 L492.4,289.55 L493.4,288.25 L494.1,287.56 L494.1,302.32 L493.4,302.63 L492.4,303.21 L491.4,303.77 L490.4,304.29 L489.4,304.77 L488.4,305.21 L487.4,305.62 L486.4,305.99 L485.4,306.33 L484.4,306.64 L483.4,306.92 L482.4,307.18 L481.4,307.42 L480.4,307.64 L479.4,307.85 L478.4,308.04 L477.4,308.22 L476.4,308.4 L475.4,308.56 L474.4,308.71 L473.4,308.86 L472.4,308.99 L471.4,309.11 L470.4,309.21 L469.4,309.3 L468.4,309.37 L467.4,309.44 L466.4,309.48 L465.4,309.52 L464.4,309.55 L463.4,309.58 L462.4,309.6 L461.4,309.62 L460.4,309.64 L459.4,309.66 L458.4,309.67 L457.4,309.69 L456.4,309.7 L455.4,309.72 L454.4,309.73 L453.4,309.75 L452.4,309.76 L451.4,309.77 L450.4,309.78 L449.4,309.79 L448.4,309.8 L447.4,309.81 L446.4,309.82 L445.4,309.83 L444.4,309.84 L443.4,309.84 L442.4,309.85 L441.4,309.86 L440.4,309.86 L439.4,309.87 L438.4,309.87 L437.4,309.88 L436.4,309.88 L435.4,309.89 L434.4,309.89 L433.4,309.89 L432.4,309.89 L431.4,309.89 L430.4,309.9 L429.4,309.9 L428.4,309.9 L427.4,309.9 Z" fill="#e5c9be"/>
<path d="M427.4,309.5 L428.4,309.49 L429.4,309.49 L430.4,309.49 L431.4,309.48 L432.4,309.48 L433.4,309.47 L434.4,309.46 L435.4,309.45 L436.4,309.44 L437.4,309.43 L438.4,309.41 L439.4,309.4 L440.4,309.38 L441.4,309.37 L442.4,309.35 L443.4,309.33 L444.4,309.31 L445.4,309.29 L446.4,309.27 L447.4,309.25 L448.4,309.23 L449.4,309.2 L450.4,309.18 L451.4,309.15 L452.4,309.12 L453.4,309.09 L454.4,309.05 L455.4,309.01 L456.4,308.97 L457.4,308.92 L458.4,308.86 L459.4,308.8 L460.4,308.74 L461.4,308.66 L462.4,308.59 L463.4,308.5 L464.4,308.42 L465.4,308.32 L466.4,308.22 L467.4,308.11 L468.4,307.99 L469.4,307.85 L470.4,307.71 L471.4,307.56 L472.4,307.39 L473.4,307.21 L474.4,307.02 L475.4,306.81 L476.4,306.58 L477.4,306.32 L478.4,306.05 L479.4,305.74 L480.4,305.4 L481.4,305.02 L482.4,304.61 L483.4,304.15 L484.4,303.64 L485.4,303.08 L486.4,302.46 L487.4,301.78 L488.4,301.05 L489.4,300.25 L490.4,299.38 L491.4,298.46 L492.4,297.49 L493.4,296.47 L494,295.95" fill="none" stroke="#efe1d8" stroke-width="3.1" stroke-linecap="butt" stroke-linejoin="round"/>
<path d="M427.4,309.5 L428.4,309.49 L429.4,309.49 L430.4,309.49 L431.4,309.48 L432.4,309.48 L433.4,309.47 L434.4,309.46 L435.4,309.45 L436.4,309.44 L437.4,309.43 L438.4,309.41 L439.4,309.4 L440.4,309.38 L441.4,309.37 L442.4,309.35 L443.4,309.33 L444.4,309.31 L445.4,309.29 L446.4,309.27 L447.4,309.25 L448.4,309.23 L449.4,309.2 L450.4,309.18 L451.4,309.15 L452.4,309.12 L453.4,309.09 L454.4,309.05 L455.4,309.01 L456.4,308.97 L457.4,308.92 L458.4,308.86 L459.4,308.8 L460.4,308.74 L461.4,308.66 L462.4,308.59 L463.4,308.5 L464.4,308.42 L465.4,308.32 L466.4,308.22 L467.4,308.11 L468.4,307.99 L469.4,307.85 L470.4,307.71 L471.4,307.56 L472.4,307.39 L473.4,307.21 L474.4,307.02 L475.4,306.81 L476.4,306.58 L477.4,306.32 L478.4,306.05 L479.4,305.74 L480.4,305.4 L481.4,305.02 L482.4,304.61 L483.4,304.15 L484.4,303.64 L485.4,303.08 L486.4,302.46 L487.4,301.78 L488.4,301.05 L489.4,300.25 L490.4,299.38 L491.4,298.46 L492.4,297.49 L493.4,296.47 L494,295.95" fill="none" stroke="#b6284a" stroke-width="1.5" stroke-linecap="butt" stroke-linejoin="round"/>
<path d="M426.1,248.5 V312.2 H511.6" fill="none" stroke="#222" stroke-width="1.25"/>
<path d="M423.1,251.2 H426.1" stroke="#222" stroke-width="1"/>
<path d="M423.1,280.25 H426.1" stroke="#222" stroke-width="1"/>
<path d="M423.1,309.3 H426.1" stroke="#222" stroke-width="1"/>
<text x="420.2" y="253.55" font-size="6.5" class="tk" text-anchor="end">1.0</text>
<text x="420.2" y="282.6" font-size="6.5" class="tk" text-anchor="end">0.5</text>
<text x="420.2" y="311.65" font-size="6.5" class="tk" text-anchor="end">0.0</text>
<path d="M442.6,312.2 v3 M475.55,312.2 v3 M508.5,312.2 v3" stroke="#222" stroke-width="1"/>
<text x="439.48" y="327" font-size="6.3" class="tk">2</text>
<text x="443.28" y="324" font-size="4.4" class="tk">9</text>
<text x="471.2" y="327" font-size="6.3" class="tk">2</text>
<text x="475.01" y="324" font-size="4.4" class="tk">10</text>
<text x="504.15" y="327" font-size="6.3" class="tk">2</text>
<text x="507.96" y="324" font-size="4.4" class="tk">11</text>
<text x="456.36" y="253" font-size="5.3" class="pv" font-style="italic">P</text>
<text x="461.36" y="253" font-size="5.3" class="pv">=</text>
<text x="465.93" y="253" font-size="5.3" class="pv">0.0774</text>
<text x="461.91" y="259.2" font-size="5.3" class="pv" font-style="italic">n</text>
<text x="466.03" y="259.2" font-size="5.3" class="pv">=</text>
<text x="470.6" y="259.2" font-size="5.3" class="pv">90</text>
<text transform="translate(395.4 279.05) rotate(-90) scale(0.6 1)" x="-28.33" y="0" font-size="8.5" letter-spacing="0.54">Probability of</text>
<text transform="translate(405.7 279.05) rotate(-90) scale(0.6 1)" x="-32" y="0" font-size="8.5" letter-spacing="0.6">grade ≥ 3 CRS</text>
<text transform="translate(468.55 338.2) scale(0.6 1)" x="-44.08" y="0" font-size="8.9" letter-spacing="0.36">Day 1 CCL2 (pg/mL)</text>
<path d="M46.8,404.48 L47.8,404.21 L48.8,403.94 L49.8,403.66 L50.8,403.38 L51.8,403.09 L52.8,402.79 L53.8,402.49 L54.8,402.18 L55.8,401.87 L56.8,401.54 L57.8,401.2 L58.8,400.84 L59.8,400.47 L60.8,400.08 L61.8,399.66 L62.8,399.22 L63.8,398.75 L64.8,398.26 L65.8,397.72 L66.8,397.16 L67.8,396.55 L68.8,395.89 L69.8,395.19 L70.8,394.43 L71.8,393.61 L72.8,392.74 L73.8,391.81 L74.8,390.83 L75.8,389.8 L76.8,388.75 L77.8,387.67 L78.8,386.59 L79.8,385.5 L80.8,384.42 L81.8,383.34 L82.8,382.27 L83.8,381.21 L84.8,380.15 L85.8,379.09 L86.8,378.02 L87.8,376.96 L88.8,375.89 L89.8,374.83 L90.8,373.78 L91.8,372.75 L92.8,371.76 L93.8,370.8 L94.8,369.89 L95.8,369.03 L96.8,368.23 L97.8,367.47 L98.8,366.75 L99.8,366.08 L100.8,365.44 L101.8,364.84 L102.8,364.28 L103.8,363.74 L104.8,363.23 L105.8,362.76 L106.8,362.3 L107.8,361.88 L108.8,361.48 L109.8,361.11 L110.8,360.76 L111.8,360.45 L112.8,360.16 L113.8,359.89 L114.8,359.65 L115.8,359.43 L116.8,359.22 L117.8,359.03 L118.8,358.85 L119.8,358.68 L120.8,358.52 L121.8,358.37 L122.8,358.22 L123.5,358.15 L123.5,382.58 L122.8,382.69 L121.8,382.94 L120.8,383.19 L119.8,383.45 L118.8,383.72 L117.8,384 L116.8,384.29 L115.8,384.59 L114.8,384.91 L113.8,385.23 L112.8,385.57 L111.8,385.92 L110.8,386.29 L109.8,386.66 L108.8,387.05 L107.8,387.45 L106.8,387.85 L105.8,388.26 L104.8,388.67 L103.8,389.09 L102.8,389.5 L101.8,389.92 L100.8,390.33 L99.8,390.75 L98.8,391.18 L97.8,391.61 L96.8,392.06 L95.8,392.51 L94.8,392.98 L93.8,393.46 L92.8,393.95 L91.8,394.44 L90.8,394.95 L89.8,395.45 L88.8,395.95 L87.8,396.45 L86.8,396.94 L85.8,397.43 L84.8,397.91 L83.8,398.39 L82.8,398.87 L81.8,399.36 L80.8,399.84 L79.8,400.34 L78.8,400.83 L77.8,401.34 L76.8,401.84 L75.8,402.36 L74.8,402.88 L73.8,403.4 L72.8,403.93 L71.8,404.46 L70.8,405 L69.8,405.55 L68.8,406.1 L67.8,406.65 L66.8,407.2 L65.8,407.76 L64.8,408.31 L63.8,408.86 L62.8,409.39 L61.8,409.91 L60.8,410.41 L59.8,410.9 L58.8,411.36 L57.8,411.79 L56.8,412.2 L55.8,412.58 L54.8,412.92 L53.8,413.24 L52.8,413.52 L51.8,413.77 L50.8,413.98 L49.8,414.18 L48.8,414.34 L47.8,414.49 L46.8,414.61 Z" fill="#e5c9be"/>
<path d="M46.8,411.66 L47.8,411.38 L48.8,411.07 L49.8,410.75 L50.8,410.4 L51.8,410.04 L52.8,409.65 L53.8,409.25 L54.8,408.82 L55.8,408.38 L56.8,407.92 L57.8,407.43 L58.8,406.93 L59.8,406.42 L60.8,405.88 L61.8,405.33 L62.8,404.76 L63.8,404.17 L64.8,403.57 L65.8,402.95 L66.8,402.32 L67.8,401.67 L68.8,401.01 L69.8,400.34 L70.8,399.65 L71.8,398.95 L72.8,398.24 L73.8,397.52 L74.8,396.78 L75.8,396.04 L76.8,395.29 L77.8,394.53 L78.8,393.76 L79.8,392.98 L80.8,392.19 L81.8,391.4 L82.8,390.61 L83.8,389.81 L84.8,389 L85.8,388.19 L86.8,387.38 L87.8,386.57 L88.8,385.76 L89.8,384.94 L90.8,384.13 L91.8,383.32 L92.8,382.51 L93.8,381.71 L94.8,380.91 L95.8,380.11 L96.8,379.32 L97.8,378.54 L98.8,377.76 L99.8,376.99 L100.8,376.24 L101.8,375.49 L102.8,374.76 L103.8,374.03 L104.8,373.33 L105.8,372.63 L106.8,371.96 L107.8,371.3 L108.8,370.65 L109.8,370.03 L110.8,369.43 L111.8,368.85 L112.8,368.29 L113.8,367.75 L114.8,367.24 L115.8,366.76 L116.8,366.3 L117.8,365.87 L118.8,365.48 L119.8,365.11 L120.8,364.77 L121.8,364.47 L122.8,364.2 L123.3,364.09" fill="none" stroke="#efe1d8" stroke-width="3.1" stroke-linecap="butt" stroke-linejoin="round"/>
<path d="M46.8,411.66 L47.8,411.38 L48.8,411.07 L49.8,410.75 L50.8,410.4 L51.8,410.04 L52.8,409.65 L53.8,409.25 L54.8,408.82 L55.8,408.38 L56.8,407.92 L57.8,407.43 L58.8,406.93 L59.8,406.42 L60.8,405.88 L61.8,405.33 L62.8,404.76 L63.8,404.17 L64.8,403.57 L65.8,402.95 L66.8,402.32 L67.8,401.67 L68.8,401.01 L69.8,400.34 L70.8,399.65 L71.8,398.95 L72.8,398.24 L73.8,397.52 L74.8,396.78 L75.8,396.04 L76.8,395.29 L77.8,394.53 L78.8,393.76 L79.8,392.98 L80.8,392.19 L81.8,391.4 L82.8,390.61 L83.8,389.81 L84.8,389 L85.8,388.19 L86.8,387.38 L87.8,386.57 L88.8,385.76 L89.8,384.94 L90.8,384.13 L91.8,383.32 L92.8,382.51 L93.8,381.71 L94.8,380.91 L95.8,380.11 L96.8,379.32 L97.8,378.54 L98.8,377.76 L99.8,376.99 L100.8,376.24 L101.8,375.49 L102.8,374.76 L103.8,374.03 L104.8,373.33 L105.8,372.63 L106.8,371.96 L107.8,371.3 L108.8,370.65 L109.8,370.03 L110.8,369.43 L111.8,368.85 L112.8,368.29 L113.8,367.75 L114.8,367.24 L115.8,366.76 L116.8,366.3 L117.8,365.87 L118.8,365.48 L119.8,365.11 L120.8,364.77 L121.8,364.47 L122.8,364.2 L123.3,364.09" fill="none" stroke="#b6284a" stroke-width="1.5" stroke-linecap="butt" stroke-linejoin="round"/>
<path d="M44.85,353.8 V417 H126" fill="none" stroke="#222" stroke-width="1.25"/>
<path d="M41.85,356.6 H44.85" stroke="#222" stroke-width="1"/>
<path d="M41.85,386.7 H44.85" stroke="#222" stroke-width="1"/>
<path d="M41.85,416.8 H44.85" stroke="#222" stroke-width="1"/>
<text x="38.95" y="358.95" font-size="6.5" class="tk" text-anchor="end">1.0</text>
<text x="38.95" y="389.05" font-size="6.5" class="tk" text-anchor="end">0.5</text>
<text x="38.95" y="419.15" font-size="6.5" class="tk" text-anchor="end">0.0</text>
<path d="M48.4,417 v3 M61,417 v3 M73.6,417 v3 M86.2,417 v3 M98.8,417 v3 M111.4,417 v3 M124,417 v3" stroke="#222" stroke-width="1"/>
<text x="51.4" y="426" font-size="6.4" class="tk" text-anchor="end" transform="rotate(-45 51.4 426)">128</text>
<text x="64" y="426" font-size="6.4" class="tk" text-anchor="end" transform="rotate(-45 64 426)">256</text>
<text x="76.6" y="426" font-size="6.4" class="tk" text-anchor="end" transform="rotate(-45 76.6 426)">512</text>
<text x="89.2" y="426" font-size="6.4" class="tk" text-anchor="end" transform="rotate(-45 89.2 426)">1024</text>
<text x="101.8" y="426" font-size="6.4" class="tk" text-anchor="end" transform="rotate(-45 101.8 426)">2048</text>
<text x="114.4" y="426" font-size="6.4" class="tk" text-anchor="end" transform="rotate(-45 114.4 426)">4096</text>
<text x="127" y="426" font-size="6.4" class="tk" text-anchor="end" transform="rotate(-45 127 426)">8192</text>
<text x="73.21" y="358.4" font-size="5.3" class="pv" font-style="italic">P</text>
<text x="78.21" y="358.4" font-size="5.3" class="pv">=</text>
<text x="82.78" y="358.4" font-size="5.3" class="pv">0.0006</text>
<text x="77.28" y="364.6" font-size="5.3" class="pv" font-style="italic">n</text>
<text x="81.41" y="364.6" font-size="5.3" class="pv">=</text>
<text x="85.98" y="364.6" font-size="5.3" class="pv">100</text>
<text transform="translate(14.15 385.5) rotate(-90) scale(0.6 1)" x="-28.33" y="0" font-size="8.5" letter-spacing="0.54">Probability of</text>
<text transform="translate(24.45 385.5) rotate(-90) scale(0.6 1)" x="-28.92" y="0" font-size="8.5" letter-spacing="0.65">grade ≥ 3 NE</text>
<text transform="translate(86.1 447.2) scale(0.6 1)" x="-47.5" y="0" font-size="8.9" letter-spacing="0.37">Baseline LDH (pg/mL)</text>
<path d="M173.2,408.77 L174.2,408.74 L175.2,408.7 L176.2,408.65 L177.2,408.6 L178.2,408.53 L179.2,408.46 L180.2,408.38 L181.2,408.28 L182.2,408.18 L183.2,408.08 L184.2,407.96 L185.2,407.84 L186.2,407.71 L187.2,407.57 L188.2,407.42 L189.2,407.26 L190.2,407.08 L191.2,406.89 L192.2,406.69 L193.2,406.47 L194.2,406.23 L195.2,405.97 L196.2,405.7 L197.2,405.41 L198.2,405.1 L199.2,404.76 L200.2,404.4 L201.2,404 L202.2,403.58 L203.2,403.12 L204.2,402.62 L205.2,402.08 L206.2,401.51 L207.2,400.89 L208.2,400.24 L209.2,399.55 L210.2,398.81 L211.2,398.04 L212.2,397.23 L213.2,396.39 L214.2,395.51 L215.2,394.6 L216.2,393.67 L217.2,392.72 L218.2,391.77 L219.2,390.8 L220.2,389.84 L221.2,388.87 L222.2,387.92 L223.2,386.96 L224.2,386.01 L225.2,385.06 L226.2,384.1 L227.2,383.14 L228.2,382.18 L229.2,381.21 L230.2,380.23 L231.2,379.24 L232.2,378.24 L233.2,377.24 L234.2,376.24 L235.2,375.25 L236.2,374.27 L237.2,373.32 L238.2,372.4 L239.2,371.51 L240.2,370.66 L241.2,369.85 L242.2,369.08 L243.2,368.34 L244.2,367.64 L245.2,366.97 L246.2,366.33 L247.2,365.71 L248.2,365.13 L249.2,364.56 L249.7,364.29 L249.7,408.31 L249.2,408.33 L248.2,408.39 L247.2,408.45 L246.2,408.51 L245.2,408.57 L244.2,408.63 L243.2,408.7 L242.2,408.76 L241.2,408.83 L240.2,408.9 L239.2,408.97 L238.2,409.04 L237.2,409.12 L236.2,409.2 L235.2,409.27 L234.2,409.35 L233.2,409.44 L232.2,409.52 L231.2,409.61 L230.2,409.7 L229.2,409.79 L228.2,409.88 L227.2,409.98 L226.2,410.07 L225.2,410.17 L224.2,410.27 L223.2,410.38 L222.2,410.48 L221.2,410.59 L220.2,410.69 L219.2,410.8 L218.2,410.91 L217.2,411.02 L216.2,411.13 L215.2,411.24 L214.2,411.35 L213.2,411.47 L212.2,411.58 L211.2,411.7 L210.2,411.82 L209.2,411.94 L208.2,412.06 L207.2,412.18 L206.2,412.3 L205.2,412.41 L204.2,412.53 L203.2,412.65 L202.2,412.77 L201.2,412.89 L200.2,413.01 L199.2,413.14 L198.2,413.26 L197.2,413.38 L196.2,413.5 L195.2,413.62 L194.2,413.74 L193.2,413.85 L192.2,413.97 L191.2,414.08 L190.2,414.19 L189.2,414.3 L188.2,414.4 L187.2,414.51 L186.2,414.6 L185.2,414.7 L184.2,414.79 L183.2,414.89 L182.2,414.98 L181.2,415.06 L180.2,415.15 L179.2,415.23 L178.2,415.31 L177.2,415.39 L176.2,415.47 L175.2,415.55 L174.2,415.62 L173.2,415.69 Z" fill="#e5c9be"/>
<path d="M173.2,414.22 L174.2,414.13 L175.2,414.03 L176.2,413.92 L177.2,413.81 L178.2,413.68 L179.2,413.55 L180.2,413.41 L181.2,413.27 L182.2,413.12 L183.2,412.96 L184.2,412.79 L185.2,412.61 L186.2,412.43 L187.2,412.24 L188.2,412.04 L189.2,411.84 L190.2,411.62 L191.2,411.4 L192.2,411.17 L193.2,410.94 L194.2,410.7 L195.2,410.45 L196.2,410.19 L197.2,409.92 L198.2,409.65 L199.2,409.37 L200.2,409.08 L201.2,408.79 L202.2,408.48 L203.2,408.17 L204.2,407.85 L205.2,407.53 L206.2,407.2 L207.2,406.85 L208.2,406.51 L209.2,406.15 L210.2,405.79 L211.2,405.42 L212.2,405.04 L213.2,404.65 L214.2,404.26 L215.2,403.86 L216.2,403.45 L217.2,403.04 L218.2,402.61 L219.2,402.18 L220.2,401.75 L221.2,401.3 L222.2,400.85 L223.2,400.39 L224.2,399.92 L225.2,399.44 L226.2,398.96 L227.2,398.47 L228.2,397.97 L229.2,397.47 L230.2,396.95 L231.2,396.43 L232.2,395.91 L233.2,395.37 L234.2,394.83 L235.2,394.28 L236.2,393.72 L237.2,393.15 L238.2,392.58 L239.2,392 L240.2,391.41 L241.2,390.82 L242.2,390.21 L243.2,389.6 L244.2,388.98 L245.2,388.36 L246.2,387.73 L247.2,387.08 L248.2,386.44 L249.2,385.78 L250,385.25" fill="none" stroke="#efe1d8" stroke-width="3.1" stroke-linecap="butt" stroke-linejoin="round"/>
<path d="M173.2,414.22 L174.2,414.13 L175.2,414.03 L176.2,413.92 L177.2,413.81 L178.2,413.68 L179.2,413.55 L180.2,413.41 L181.2,413.27 L182.2,413.12 L183.2,412.96 L184.2,412.79 L185.2,412.61 L186.2,412.43 L187.2,412.24 L188.2,412.04 L189.2,411.84 L190.2,411.62 L191.2,411.4 L192.2,411.17 L193.2,410.94 L194.2,410.7 L195.2,410.45 L196.2,410.19 L197.2,409.92 L198.2,409.65 L199.2,409.37 L200.2,409.08 L201.2,408.79 L202.2,408.48 L203.2,408.17 L204.2,407.85 L205.2,407.53 L206.2,407.2 L207.2,406.85 L208.2,406.51 L209.2,406.15 L210.2,405.79 L211.2,405.42 L212.2,405.04 L213.2,404.65 L214.2,404.26 L215.2,403.86 L216.2,403.45 L217.2,403.04 L218.2,402.61 L219.2,402.18 L220.2,401.75 L221.2,401.3 L222.2,400.85 L223.2,400.39 L224.2,399.92 L225.2,399.44 L226.2,398.96 L227.2,398.47 L228.2,397.97 L229.2,397.47 L230.2,396.95 L231.2,396.43 L232.2,395.91 L233.2,395.37 L234.2,394.83 L235.2,394.28 L236.2,393.72 L237.2,393.15 L238.2,392.58 L239.2,392 L240.2,391.41 L241.2,390.82 L242.2,390.21 L243.2,389.6 L244.2,388.98 L245.2,388.36 L246.2,387.73 L247.2,387.08 L248.2,386.44 L249.2,385.78 L250,385.25" fill="none" stroke="#b6284a" stroke-width="1.5" stroke-linecap="butt" stroke-linejoin="round"/>
<path d="M171.6,353.8 V417 H252.6" fill="none" stroke="#222" stroke-width="1.25"/>
<path d="M168.6,356.6 H171.6" stroke="#222" stroke-width="1"/>
<path d="M168.6,386.7 H171.6" stroke="#222" stroke-width="1"/>
<path d="M168.6,416.8 H171.6" stroke="#222" stroke-width="1"/>
<text x="165.7" y="358.95" font-size="6.5" class="tk" text-anchor="end">1.0</text>
<text x="165.7" y="389.05" font-size="6.5" class="tk" text-anchor="end">0.5</text>
<text x="165.7" y="419.15" font-size="6.5" class="tk" text-anchor="end">0.0</text>
<path d="M175,417 v3 M187.6,417 v3 M200.2,417 v3 M212.8,417 v3 M225.4,417 v3 M238,417 v3 M250.6,417 v3" stroke="#222" stroke-width="1"/>
<text x="178" y="426" font-size="6.4" class="tk" text-anchor="end" transform="rotate(-45 178 426)">128</text>
<text x="190.6" y="426" font-size="6.4" class="tk" text-anchor="end" transform="rotate(-45 190.6 426)">256</text>
<text x="203.2" y="426" font-size="6.4" class="tk" text-anchor="end" transform="rotate(-45 203.2 426)">512</text>
<text x="215.8" y="426" font-size="6.4" class="tk" text-anchor="end" transform="rotate(-45 215.8 426)">1024</text>
<text x="228.4" y="426" font-size="6.4" class="tk" text-anchor="end" transform="rotate(-45 228.4 426)">2048</text>
<text x="241" y="426" font-size="6.4" class="tk" text-anchor="end" transform="rotate(-45 241 426)">4096</text>
<text x="253.6" y="426" font-size="6.4" class="tk" text-anchor="end" transform="rotate(-45 253.6 426)">8192</text>
<text x="199.96" y="358.4" font-size="5.3" class="pv" font-style="italic">P</text>
<text x="204.96" y="358.4" font-size="5.3" class="pv">=</text>
<text x="209.53" y="358.4" font-size="5.3" class="pv">0.0275</text>
<text x="204.03" y="364.6" font-size="5.3" class="pv" font-style="italic">n</text>
<text x="208.16" y="364.6" font-size="5.3" class="pv">=</text>
<text x="212.73" y="364.6" font-size="5.3" class="pv">101</text>
<text transform="translate(140.9 385.5) rotate(-90) scale(0.6 1)" x="-28.33" y="0" font-size="8.5" letter-spacing="0.54">Probability of</text>
<text transform="translate(151.2 385.5) rotate(-90) scale(0.6 1)" x="-32" y="0" font-size="8.5" letter-spacing="0.6">grade ≥ 3 CRS</text>
<text transform="translate(212.25 447.2) scale(0.6 1)" x="-47.5" y="0" font-size="8.9" letter-spacing="0.37">Baseline LDH (pg/mL)</text>
<path d="M298.8,403.99 L299.8,403.92 L300.8,403.86 L301.8,403.78 L302.8,403.71 L303.8,403.63 L304.8,403.56 L305.8,403.47 L306.8,403.39 L307.8,403.31 L308.8,403.22 L309.8,403.13 L310.8,403.04 L311.8,402.94 L312.8,402.84 L313.8,402.74 L314.8,402.63 L315.8,402.52 L316.8,402.4 L317.8,402.26 L318.8,402.12 L319.8,401.97 L320.8,401.81 L321.8,401.63 L322.8,401.45 L323.8,401.25 L324.8,401.05 L325.8,400.84 L326.8,400.62 L327.8,400.4 L328.8,400.17 L329.8,399.93 L330.8,399.68 L331.8,399.42 L332.8,399.16 L333.8,398.89 L334.8,398.61 L335.8,398.31 L336.8,398.01 L337.8,397.7 L338.8,397.38 L339.8,397.04 L340.8,396.69 L341.8,396.33 L342.8,395.95 L343.8,395.54 L344.8,395.11 L345.8,394.66 L346.8,394.18 L347.8,393.67 L348.8,393.14 L349.8,392.57 L350.8,391.97 L351.8,391.35 L352.8,390.69 L353.8,390.01 L354.8,389.29 L355.8,388.54 L356.8,387.76 L357.8,386.94 L358.8,386.09 L359.8,385.22 L360.8,384.32 L361.8,383.4 L362.8,382.47 L363.8,381.53 L364.8,380.57 L365.8,379.61 L366.8,378.64 L367.8,377.66 L368.8,376.67 L369.8,375.68 L370.8,374.67 L371.8,373.66 L372.8,372.63 L373.8,371.6 L374.6,370.83 L374.6,396.45 L373.8,396.56 L372.8,396.71 L371.8,396.88 L370.8,397.06 L369.8,397.25 L368.8,397.45 L367.8,397.67 L366.8,397.91 L365.8,398.16 L364.8,398.42 L363.8,398.71 L362.8,399.01 L361.8,399.33 L360.8,399.67 L359.8,400.02 L358.8,400.38 L357.8,400.75 L356.8,401.14 L355.8,401.52 L354.8,401.92 L353.8,402.32 L352.8,402.72 L351.8,403.14 L350.8,403.56 L349.8,403.98 L348.8,404.42 L347.8,404.86 L346.8,405.31 L345.8,405.78 L344.8,406.25 L343.8,406.73 L342.8,407.22 L341.8,407.71 L340.8,408.2 L339.8,408.68 L338.8,409.16 L337.8,409.62 L336.8,410.07 L335.8,410.51 L334.8,410.93 L333.8,411.34 L332.8,411.74 L331.8,412.13 L330.8,412.5 L329.8,412.87 L328.8,413.21 L327.8,413.53 L326.8,413.83 L325.8,414.1 L324.8,414.35 L323.8,414.55 L322.8,414.73 L321.8,414.88 L320.8,415 L319.8,415.1 L318.8,415.19 L317.8,415.26 L316.8,415.32 L315.8,415.37 L314.8,415.42 L313.8,415.46 L312.8,415.5 L311.8,415.54 L310.8,415.58 L309.8,415.61 L308.8,415.64 L307.8,415.67 L306.8,415.69 L305.8,415.71 L304.8,415.73 L303.8,415.75 L302.8,415.76 L301.8,415.77 L300.8,415.78 L299.8,415.79 L298.8,415.79 Z" fill="#e5c9be"/>
<path d="M298.8,414.41 L299.8,414.31 L300.8,414.21 L301.8,414.11 L302.8,414.03 L303.8,413.94 L304.8,413.85 L305.8,413.77 L306.8,413.69 L307.8,413.6 L308.8,413.51 L309.8,413.42 L310.8,413.32 L311.8,413.22 L312.8,413.11 L313.8,412.99 L314.8,412.86 L315.8,412.72 L316.8,412.58 L317.8,412.42 L318.8,412.25 L319.8,412.07 L320.8,411.87 L321.8,411.67 L322.8,411.45 L323.8,411.21 L324.8,410.96 L325.8,410.69 L326.8,410.41 L327.8,410.11 L328.8,409.8 L329.8,409.47 L330.8,409.12 L331.8,408.76 L332.8,408.38 L333.8,407.99 L334.8,407.57 L335.8,407.14 L336.8,406.7 L337.8,406.24 L338.8,405.76 L339.8,405.26 L340.8,404.75 L341.8,404.23 L342.8,403.69 L343.8,403.13 L344.8,402.56 L345.8,401.98 L346.8,401.38 L347.8,400.77 L348.8,400.15 L349.8,399.52 L350.8,398.88 L351.8,398.22 L352.8,397.56 L353.8,396.89 L354.8,396.21 L355.8,395.53 L356.8,394.83 L357.8,394.14 L358.8,393.44 L359.8,392.74 L360.8,392.03 L361.8,391.33 L362.8,390.63 L363.8,389.93 L364.8,389.23 L365.8,388.54 L366.8,387.85 L367.8,387.17 L368.8,386.5 L369.8,385.84 L370.8,385.2 L371.8,384.56 L372.8,383.95 L373.8,383.35 L374.6,382.88" fill="none" stroke="#efe1d8" stroke-width="3.1" stroke-linecap="butt" stroke-linejoin="round"/>
<path d="M298.8,414.41 L299.8,414.31 L300.8,414.21 L301.8,414.11 L302.8,414.03 L303.8,413.94 L304.8,413.85 L305.8,413.77 L306.8,413.69 L307.8,413.6 L308.8,413.51 L309.8,413.42 L310.8,413.32 L311.8,413.22 L312.8,413.11 L313.8,412.99 L314.8,412.86 L315.8,412.72 L316.8,412.58 L317.8,412.42 L318.8,412.25 L319.8,412.07 L320.8,411.87 L321.8,411.67 L322.8,411.45 L323.8,411.21 L324.8,410.96 L325.8,410.69 L326.8,410.41 L327.8,410.11 L328.8,409.8 L329.8,409.47 L330.8,409.12 L331.8,408.76 L332.8,408.38 L333.8,407.99 L334.8,407.57 L335.8,407.14 L336.8,406.7 L337.8,406.24 L338.8,405.76 L339.8,405.26 L340.8,404.75 L341.8,404.23 L342.8,403.69 L343.8,403.13 L344.8,402.56 L345.8,401.98 L346.8,401.38 L347.8,400.77 L348.8,400.15 L349.8,399.52 L350.8,398.88 L351.8,398.22 L352.8,397.56 L353.8,396.89 L354.8,396.21 L355.8,395.53 L356.8,394.83 L357.8,394.14 L358.8,393.44 L359.8,392.74 L360.8,392.03 L361.8,391.33 L362.8,390.63 L363.8,389.93 L364.8,389.23 L365.8,388.54 L366.8,387.85 L367.8,387.17 L368.8,386.5 L369.8,385.84 L370.8,385.2 L371.8,384.56 L372.8,383.95 L373.8,383.35 L374.6,382.88" fill="none" stroke="#b6284a" stroke-width="1.5" stroke-linecap="butt" stroke-linejoin="round"/>
<path d="M297.9,354.2 V417 H379.6" fill="none" stroke="#222" stroke-width="1.25"/>
<path d="M294.9,356.8 H297.9" stroke="#222" stroke-width="1"/>
<path d="M294.9,385.9 H297.9" stroke="#222" stroke-width="1"/>
<path d="M294.9,415 H297.9" stroke="#222" stroke-width="1"/>
<text x="292" y="359.15" font-size="6.5" class="tk" text-anchor="end">1.0</text>
<text x="292" y="388.25" font-size="6.5" class="tk" text-anchor="end">0.5</text>
<text x="292" y="417.35" font-size="6.5" class="tk" text-anchor="end">0.0</text>
<path d="M304.6,417 v3 M318.25,417 v3 M331.9,417 v3 M345.55,417 v3 M359.2,417 v3 M372.85,417 v3" stroke="#222" stroke-width="1"/>
<text x="315.13" y="431.8" font-size="6.3" class="tk">2</text>
<text x="318.93" y="428.8" font-size="4.4" class="tk">1</text>
<text x="341.2" y="431.8" font-size="6.3" class="tk">2</text>
<text x="345.01" y="428.8" font-size="4.4" class="tk">12</text>
<text x="368.5" y="431.8" font-size="6.3" class="tk">2</text>
<text x="372.31" y="428.8" font-size="4.4" class="tk">14</text>
<text x="326.26" y="358.4" font-size="5.3" class="pv" font-style="italic">P</text>
<text x="331.26" y="358.4" font-size="5.3" class="pv">=</text>
<text x="335.83" y="358.4" font-size="5.3" class="pv">0.0122</text>
<text x="330.33" y="364.6" font-size="5.3" class="pv" font-style="italic">n</text>
<text x="334.46" y="364.6" font-size="5.3" class="pv">=</text>
<text x="339.03" y="364.6" font-size="5.3" class="pv">100</text>
<text transform="translate(267.2 384.7) rotate(-90) scale(0.6 1)" x="-28.33" y="0" font-size="8.5" letter-spacing="0.54">Probability of</text>
<text transform="translate(277.5 384.7) rotate(-90) scale(0.6 1)" x="-28.92" y="0" font-size="8.5" letter-spacing="0.65">grade ≥ 3 NE</text>
<text transform="translate(338.85 443.1) scale(0.6 1)" x="-58.42" y="0" font-size="8.9" letter-spacing="0.54">IFN-γ in coculture (pg/mL)</text>
<path d="M427.2,396.2 L428.2,396.38 L429.2,396.55 L430.2,396.73 L431.2,396.91 L432.2,397.08 L433.2,397.26 L434.2,397.43 L435.2,397.61 L436.2,397.79 L437.2,397.96 L438.2,398.14 L439.2,398.31 L440.2,398.49 L441.2,398.67 L442.2,398.85 L443.2,399.02 L444.2,399.2 L445.2,399.38 L446.2,399.56 L447.2,399.74 L448.2,399.92 L449.2,400.1 L450.2,400.27 L451.2,400.45 L452.2,400.62 L453.2,400.79 L454.2,400.96 L455.2,401.13 L456.2,401.3 L457.2,401.46 L458.2,401.63 L459.2,401.79 L460.2,401.95 L461.2,402.11 L462.2,402.27 L463.2,402.42 L464.2,402.57 L465.2,402.71 L466.2,402.84 L467.2,402.96 L468.2,403.07 L469.2,403.18 L470.2,403.27 L471.2,403.35 L472.2,403.42 L473.2,403.48 L474.2,403.52 L475.2,403.54 L476.2,403.54 L477.2,403.5 L478.2,403.42 L479.2,403.3 L480.2,403.13 L481.2,402.9 L482.2,402.61 L483.2,402.27 L484.2,401.86 L485.2,401.39 L486.2,400.87 L487.2,400.3 L488.2,399.67 L489.2,399.01 L490.2,398.3 L491.2,397.54 L492.2,396.75 L493.2,395.92 L494.2,395.06 L495.2,394.17 L496.2,393.24 L497.2,392.29 L498.2,391.32 L499.2,390.33 L500.2,389.33 L501.2,388.31 L502.2,387.28 L502.6,387.03 L502.6,411.31 L502.2,411.31 L501.2,411.34 L500.2,411.37 L499.2,411.39 L498.2,411.42 L497.2,411.45 L496.2,411.48 L495.2,411.52 L494.2,411.55 L493.2,411.59 L492.2,411.62 L491.2,411.66 L490.2,411.7 L489.2,411.74 L488.2,411.78 L487.2,411.82 L486.2,411.86 L485.2,411.9 L484.2,411.95 L483.2,412 L482.2,412.05 L481.2,412.1 L480.2,412.16 L479.2,412.22 L478.2,412.28 L477.2,412.35 L476.2,412.43 L475.2,412.51 L474.2,412.61 L473.2,412.71 L472.2,412.82 L471.2,412.93 L470.2,413.05 L469.2,413.17 L468.2,413.3 L467.2,413.42 L466.2,413.54 L465.2,413.65 L464.2,413.75 L463.2,413.85 L462.2,413.94 L461.2,414.02 L460.2,414.1 L459.2,414.17 L458.2,414.23 L457.2,414.29 L456.2,414.35 L455.2,414.41 L454.2,414.46 L453.2,414.51 L452.2,414.56 L451.2,414.6 L450.2,414.65 L449.2,414.69 L448.2,414.73 L447.2,414.78 L446.2,414.82 L445.2,414.85 L444.2,414.89 L443.2,414.93 L442.2,414.97 L441.2,415 L440.2,415.04 L439.2,415.07 L438.2,415.1 L437.2,415.13 L436.2,415.17 L435.2,415.2 L434.2,415.22 L433.2,415.25 L432.2,415.28 L431.2,415.3 L430.2,415.33 L429.2,415.35 L428.2,415.37 L427.2,415.4 Z" fill="#e5c9be"/>
<path d="M426.8,414.18 L427.8,414.15 L428.8,414.11 L429.8,414.06 L430.8,414.02 L431.8,413.97 L432.8,413.92 L433.8,413.87 L434.8,413.81 L435.8,413.75 L436.8,413.69 L437.8,413.62 L438.8,413.55 L439.8,413.48 L440.8,413.41 L441.8,413.33 L442.8,413.25 L443.8,413.17 L444.8,413.08 L445.8,412.99 L446.8,412.9 L447.8,412.8 L448.8,412.71 L449.8,412.61 L450.8,412.5 L451.8,412.4 L452.8,412.29 L453.8,412.17 L454.8,412.06 L455.8,411.94 L456.8,411.82 L457.8,411.7 L458.8,411.57 L459.8,411.44 L460.8,411.31 L461.8,411.17 L462.8,411.03 L463.8,410.89 L464.8,410.75 L465.8,410.6 L466.8,410.45 L467.8,410.29 L468.8,410.14 L469.8,409.98 L470.8,409.82 L471.8,409.65 L472.8,409.48 L473.8,409.31 L474.8,409.14 L475.8,408.96 L476.8,408.78 L477.8,408.6 L478.8,408.42 L479.8,408.23 L480.8,408.04 L481.8,407.84 L482.8,407.65 L483.8,407.45 L484.8,407.24 L485.8,407.04 L486.8,406.83 L487.8,406.62 L488.8,406.4 L489.8,406.18 L490.8,405.96 L491.8,405.74 L492.8,405.51 L493.8,405.28 L494.8,405.05 L495.8,404.82 L496.8,404.58 L497.8,404.34 L498.8,404.1 L499.8,403.85 L500.8,403.6 L501.8,403.35 L502.6,403.14" fill="none" stroke="#efe1d8" stroke-width="3.1" stroke-linecap="butt" stroke-linejoin="round"/>
<path d="M426.8,414.18 L427.8,414.15 L428.8,414.11 L429.8,414.06 L430.8,414.02 L431.8,413.97 L432.8,413.92 L433.8,413.87 L434.8,413.81 L435.8,413.75 L436.8,413.69 L437.8,413.62 L438.8,413.55 L439.8,413.48 L440.8,413.41 L441.8,413.33 L442.8,413.25 L443.8,413.17 L444.8,413.08 L445.8,412.99 L446.8,412.9 L447.8,412.8 L448.8,412.71 L449.8,412.61 L450.8,412.5 L451.8,412.4 L452.8,412.29 L453.8,412.17 L454.8,412.06 L455.8,411.94 L456.8,411.82 L457.8,411.7 L458.8,411.57 L459.8,411.44 L460.8,411.31 L461.8,411.17 L462.8,411.03 L463.8,410.89 L464.8,410.75 L465.8,410.6 L466.8,410.45 L467.8,410.29 L468.8,410.14 L469.8,409.98 L470.8,409.82 L471.8,409.65 L472.8,409.48 L473.8,409.31 L474.8,409.14 L475.8,408.96 L476.8,408.78 L477.8,408.6 L478.8,408.42 L479.8,408.23 L480.8,408.04 L481.8,407.84 L482.8,407.65 L483.8,407.45 L484.8,407.24 L485.8,407.04 L486.8,406.83 L487.8,406.62 L488.8,406.4 L489.8,406.18 L490.8,405.96 L491.8,405.74 L492.8,405.51 L493.8,405.28 L494.8,405.05 L495.8,404.82 L496.8,404.58 L497.8,404.34 L498.8,404.1 L499.8,403.85 L500.8,403.6 L501.8,403.35 L502.6,403.14" fill="none" stroke="#b6284a" stroke-width="1.5" stroke-linecap="butt" stroke-linejoin="round"/>
<path d="M426.1,354.2 V417 H507.6" fill="none" stroke="#222" stroke-width="1.25"/>
<path d="M423.1,356.8 H426.1" stroke="#222" stroke-width="1"/>
<path d="M423.1,385.9 H426.1" stroke="#222" stroke-width="1"/>
<path d="M423.1,415 H426.1" stroke="#222" stroke-width="1"/>
<text x="420.2" y="359.15" font-size="6.5" class="tk" text-anchor="end">1.0</text>
<text x="420.2" y="388.25" font-size="6.5" class="tk" text-anchor="end">0.5</text>
<text x="420.2" y="417.35" font-size="6.5" class="tk" text-anchor="end">0.0</text>
<path d="M432.5,417 v3 M446.15,417 v3 M459.8,417 v3 M473.45,417 v3 M487.1,417 v3 M500.75,417 v3" stroke="#222" stroke-width="1"/>
<text x="443.03" y="431.8" font-size="6.3" class="tk">2</text>
<text x="446.83" y="428.8" font-size="4.4" class="tk">1</text>
<text x="469.1" y="431.8" font-size="6.3" class="tk">2</text>
<text x="472.91" y="428.8" font-size="4.4" class="tk">12</text>
<text x="496.4" y="431.8" font-size="6.3" class="tk">2</text>
<text x="500.21" y="428.8" font-size="4.4" class="tk">14</text>
<text x="454.46" y="358.4" font-size="5.3" class="pv" font-style="italic">P</text>
<text x="459.46" y="358.4" font-size="5.3" class="pv">=</text>
<text x="464.03" y="358.4" font-size="5.3" class="pv">0.2432</text>
<text x="458.53" y="364.6" font-size="5.3" class="pv" font-style="italic">n</text>
<text x="462.66" y="364.6" font-size="5.3" class="pv">=</text>
<text x="467.23" y="364.6" font-size="5.3" class="pv">101</text>
<text transform="translate(395.4 384.7) rotate(-90) scale(0.6 1)" x="-28.33" y="0" font-size="8.5" letter-spacing="0.54">Probability of</text>
<text transform="translate(405.7 384.7) rotate(-90) scale(0.6 1)" x="-32" y="0" font-size="8.5" letter-spacing="0.6">grade ≥ 3 CRS</text>
<text transform="translate(466.6 443.1) scale(0.6 1)" x="-58.42" y="0" font-size="8.9" letter-spacing="0.54">IFN-γ in coculture (pg/mL)</text>
<text x="6.9" y="16.6" font-size="10.6" class="let" font-weight="bold" fill="#000">A</text>
<text x="260.6" y="16.5" font-size="10.6" class="let" font-weight="bold" fill="#000">B</text>
<text x="6.6" y="131.8" font-size="10.6" class="let" font-weight="bold" fill="#000">C</text>
<text x="260.6" y="131.8" font-size="10.6" class="let" font-weight="bold" fill="#000">D</text>
<text x="6.9" y="247.8" font-size="10.6" class="let" font-weight="bold" fill="#000">E</text>
<text x="260.6" y="247.8" font-size="10.6" class="let" font-weight="bold" fill="#000">F</text>
<text x="6.6" y="353.4" font-size="10.6" class="let" font-weight="bold" fill="#000">G</text>
<text x="260.6" y="353.2" font-size="10.6" class="let" font-weight="bold" fill="#000">H</text>
<rect x="0.6" y="0.6" width="518.8" height="454.6" fill="none" stroke="#000" stroke-width="1.2"/>
</svg>
</body></html>
